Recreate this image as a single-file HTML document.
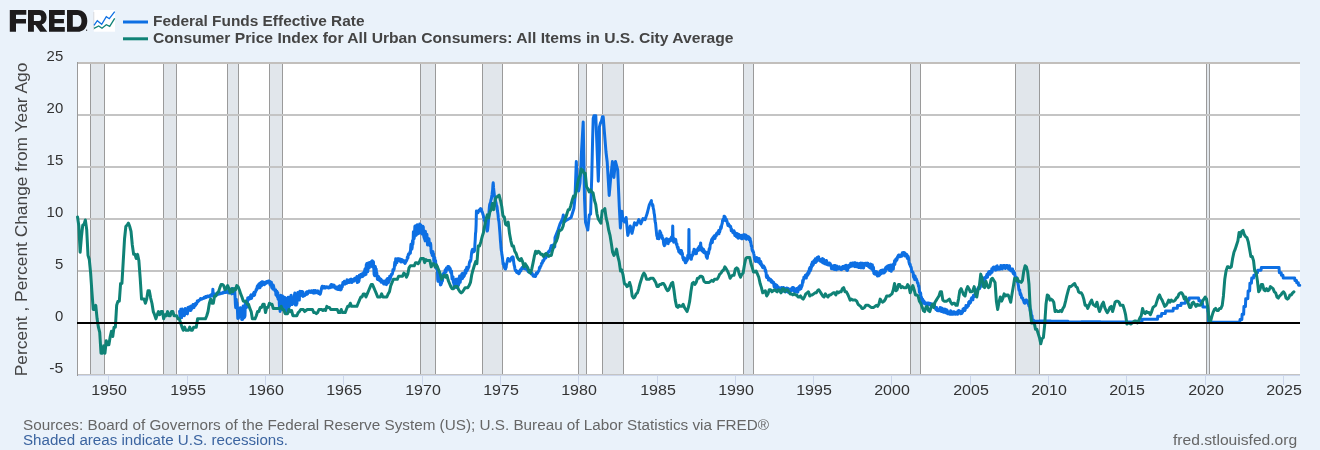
<!DOCTYPE html>
<html><head><meta charset="utf-8"><style>
html,body{margin:0;padding:0;background:#eaf2fa;}
svg{display:block;will-change:transform;}
text{font-family:"Liberation Sans",sans-serif;}
.txt{opacity:0.999}
.ax{font-size:14px;fill:#333;}
.lg{font-size:14px;font-weight:bold;fill:#444;}
.ft{font-size:14px;fill:#666;}
</style></head><body>
<svg width="1320" height="450" viewBox="0 0 1320 450">
<rect x="0" y="0" width="1320" height="450" fill="#eaf2fa"/>
<!-- FRED logo -->
<g fill="#1d1b1c" fill-rule="evenodd">
<path d="M9.8,10 H26.3 V14.7 H16 V18.9 H26 V23.6 H16 V31.8 H9.8 Z"/>
<path d="M28,10 H39.5 C44.2,10 46.6,13.2 46.6,17.5 C46.6,21 44.8,23.4 41.8,24.4 L47.3,31.8 H40.2 L35.3,25 H33.9 V31.8 H28 Z M33.9,14.9 V20.9 H39 C40.6,20.9 41.2,19.6 41.2,17.9 C41.2,16.2 40.6,14.9 39,14.9 Z"/>
<path d="M49,10 H64.8 V14.9 H54.5 V19 H63.9 V23.3 H54.5 V27 H64.8 V31.8 H49 Z"/>
<path d="M67,10 H77.3 C83.5,10 87.3,14.4 87.3,20.9 C87.3,27.4 83.5,31.8 77.3,31.8 H67 Z M72.8,15 V26.7 H77 C79.9,26.7 81.5,24.5 81.5,20.9 C81.5,17.3 79.9,15 77,15 Z"/>
<circle cx="86.6" cy="30.2" r="0.6"/>
</g>
<!-- icon -->
<rect x="93.8" y="10" width="21.2" height="21.7" fill="#fff"/>
<line x1="93.8" y1="12" x2="93.8" y2="30" stroke="#c8c8c8" stroke-width="0.6"/>
<polyline points="94,25.3 97.3,20.7 101.7,24.3 106.3,16.7 109.3,18.7 114.7,11.7" fill="none" stroke="#0d6fe3" stroke-width="1.3"/>
<polyline points="94,28.3 98.7,26 102,28.3 106.3,24.7 109.7,26.3 114.7,18.3" fill="none" stroke="#0f8276" stroke-width="1.3"/>
<!-- legend --><g class="txt">
<line x1="123" y1="22" x2="148" y2="22" stroke="#0d6fe3" stroke-width="3"/>
<line x1="123" y1="38.8" x2="148" y2="38.8" stroke="#0f8276" stroke-width="3"/>
<text x="153" y="25.7" class="lg" textLength="211.5" lengthAdjust="spacingAndGlyphs">Federal Funds Effective Rate</text>
<text x="153" y="43" class="lg" textLength="580.5" lengthAdjust="spacingAndGlyphs">Consumer Price Index for All Urban Consumers: All Items in U.S. City Average</text>
</g><!-- plot -->
<rect x="77" y="62" width="1223" height="313" fill="#ffffff"/>
<rect x="90.63" y="63" width="14.32" height="312" fill="#e1e6eb"/><line x1="90.5" y1="63" x2="90.5" y2="375" stroke="#9a9a9a" stroke-width="1"/><line x1="104.5" y1="63" x2="104.5" y2="375" stroke="#9a9a9a" stroke-width="1"/><rect x="163.65" y="63" width="13.04" height="312" fill="#e1e6eb"/><line x1="163.5" y1="63" x2="163.5" y2="375" stroke="#9a9a9a" stroke-width="1"/><line x1="176.5" y1="63" x2="176.5" y2="375" stroke="#9a9a9a" stroke-width="1"/><rect x="227.63" y="63" width="10.42" height="312" fill="#e1e6eb"/><line x1="227.5" y1="63" x2="227.5" y2="375" stroke="#9a9a9a" stroke-width="1"/><line x1="238.5" y1="63" x2="238.5" y2="375" stroke="#9a9a9a" stroke-width="1"/><rect x="269.40" y="63" width="13.12" height="312" fill="#e1e6eb"/><line x1="269.5" y1="63" x2="269.5" y2="375" stroke="#9a9a9a" stroke-width="1"/><line x1="282.5" y1="63" x2="282.5" y2="375" stroke="#9a9a9a" stroke-width="1"/><rect x="420.80" y="63" width="14.36" height="312" fill="#e1e6eb"/><line x1="420.5" y1="63" x2="420.5" y2="375" stroke="#9a9a9a" stroke-width="1"/><line x1="435.5" y1="63" x2="435.5" y2="375" stroke="#9a9a9a" stroke-width="1"/><rect x="482.17" y="63" width="20.80" height="312" fill="#e1e6eb"/><line x1="482.5" y1="63" x2="482.5" y2="375" stroke="#9a9a9a" stroke-width="1"/><line x1="502.5" y1="63" x2="502.5" y2="375" stroke="#9a9a9a" stroke-width="1"/><rect x="578.73" y="63" width="7.80" height="312" fill="#e1e6eb"/><line x1="578.5" y1="63" x2="578.5" y2="375" stroke="#9a9a9a" stroke-width="1"/><line x1="586.5" y1="63" x2="586.5" y2="375" stroke="#9a9a9a" stroke-width="1"/><rect x="602.19" y="63" width="20.93" height="312" fill="#e1e6eb"/><line x1="602.5" y1="63" x2="602.5" y2="375" stroke="#9a9a9a" stroke-width="1"/><line x1="623.5" y1="63" x2="623.5" y2="375" stroke="#9a9a9a" stroke-width="1"/><rect x="743.13" y="63" width="10.42" height="312" fill="#e1e6eb"/><line x1="743.5" y1="63" x2="743.5" y2="375" stroke="#9a9a9a" stroke-width="1"/><line x1="753.5" y1="63" x2="753.5" y2="375" stroke="#9a9a9a" stroke-width="1"/><rect x="910.19" y="63" width="10.51" height="312" fill="#e1e6eb"/><line x1="910.5" y1="63" x2="910.5" y2="375" stroke="#9a9a9a" stroke-width="1"/><line x1="920.5" y1="63" x2="920.5" y2="375" stroke="#9a9a9a" stroke-width="1"/><rect x="1015.94" y="63" width="23.50" height="312" fill="#e1e6eb"/><line x1="1015.5" y1="63" x2="1015.5" y2="375" stroke="#9a9a9a" stroke-width="1"/><line x1="1039.5" y1="63" x2="1039.5" y2="375" stroke="#9a9a9a" stroke-width="1"/><rect x="1206.54" y="63" width="2.57" height="312" fill="#e1e6eb"/><line x1="1206.5" y1="63" x2="1206.5" y2="375" stroke="#9a9a9a" stroke-width="1"/><line x1="1209.5" y1="63" x2="1209.5" y2="375" stroke="#9a9a9a" stroke-width="1"/>
<line x1="77" y1="115.0" x2="1300" y2="115.0" stroke="#c4c4c4" stroke-width="2"/><line x1="77" y1="167.0" x2="1300" y2="167.0" stroke="#c4c4c4" stroke-width="2"/><line x1="77" y1="219.0" x2="1300" y2="219.0" stroke="#c4c4c4" stroke-width="2"/><line x1="77" y1="271.0" x2="1300" y2="271.0" stroke="#c4c4c4" stroke-width="2"/><line x1="77" y1="375.0" x2="1300" y2="375.0" stroke="#c4c4c4" stroke-width="2"/><line x1="77" y1="63" x2="1300" y2="63" stroke="#c2bfbc" stroke-width="2"/>
<line x1="77" y1="375.5" x2="1300" y2="375.5" stroke="#ccd6eb" stroke-width="1"/>
<line x1="77.5" y1="62" x2="77.5" y2="376" stroke="#9a9a9a" stroke-width="1"/>
<line x1="108.5" y1="375" x2="108.5" y2="385" stroke="#ccd6eb" stroke-width="1"/><line x1="187.5" y1="375" x2="187.5" y2="385" stroke="#ccd6eb" stroke-width="1"/><line x1="265.5" y1="375" x2="265.5" y2="385" stroke="#ccd6eb" stroke-width="1"/><line x1="343.5" y1="375" x2="343.5" y2="385" stroke="#ccd6eb" stroke-width="1"/><line x1="422.5" y1="375" x2="422.5" y2="385" stroke="#ccd6eb" stroke-width="1"/><line x1="500.5" y1="375" x2="500.5" y2="385" stroke="#ccd6eb" stroke-width="1"/><line x1="578.5" y1="375" x2="578.5" y2="385" stroke="#ccd6eb" stroke-width="1"/><line x1="657.5" y1="375" x2="657.5" y2="385" stroke="#ccd6eb" stroke-width="1"/><line x1="735.5" y1="375" x2="735.5" y2="385" stroke="#ccd6eb" stroke-width="1"/><line x1="813.5" y1="375" x2="813.5" y2="385" stroke="#ccd6eb" stroke-width="1"/><line x1="891.5" y1="375" x2="891.5" y2="385" stroke="#ccd6eb" stroke-width="1"/><line x1="970.5" y1="375" x2="970.5" y2="385" stroke="#ccd6eb" stroke-width="1"/><line x1="1048.5" y1="375" x2="1048.5" y2="385" stroke="#ccd6eb" stroke-width="1"/><line x1="1126.5" y1="375" x2="1126.5" y2="385" stroke="#ccd6eb" stroke-width="1"/><line x1="1205.5" y1="375" x2="1205.5" y2="385" stroke="#ccd6eb" stroke-width="1"/><line x1="1283.5" y1="375" x2="1283.5" y2="385" stroke="#ccd6eb" stroke-width="1"/>
<g fill="none" stroke-linejoin="round" stroke-linecap="round">
<path d="M179.56,311.35 L179.86,314.09 L180.16,317.56 L180.46,313.27 L180.76,309.28 L181.06,311.11 L181.36,314.68 L181.66,317.66 L181.96,309.97 L182.26,308.99 L182.56,313.21 L182.86,314.16 L183.16,315.40 L183.46,314.95 L183.76,313.43 L184.06,311.89 L184.36,315.73 L184.66,314.41 L184.96,310.37 L185.26,308.45 L185.56,311.10 L185.86,312.73 L186.17,311.07 L186.47,311.36 L186.77,312.36 L187.07,313.64 L187.37,313.83 L187.67,312.11 L187.97,307.61 L188.27,309.84 L188.57,307.39 L188.87,307.95 L189.17,307.00 L189.47,307.71 L189.77,306.77 L190.07,308.28 L190.37,310.56 L190.67,310.46 L190.97,310.37 L191.27,306.01 L191.57,306.48 L191.87,308.68 L192.17,307.63 L192.47,308.02 L192.77,307.34 L193.07,304.59 L193.37,306.66 L193.67,304.44 L193.97,307.52 L194.27,305.31 L194.57,306.11 L194.87,304.97 L195.17,305.89 L195.47,303.54 L195.77,304.92 L196.07,303.48 L196.37,304.24 L196.67,303.79 L196.97,302.69 L197.27,301.00 L197.57,301.90 L197.87,301.59 L198.17,301.54 L198.47,300.60 L198.77,300.75 L199.07,300.63 L199.37,300.28 L199.67,299.98 L199.97,299.74 L200.27,298.97 L200.57,298.41 L200.87,298.44 L201.17,299.01 L201.47,299.29 L201.77,299.09 L202.07,298.93 L202.37,298.82 L202.67,298.71 L202.97,298.32 L203.27,298.43 L203.57,298.37 L203.87,297.88 L204.17,297.20 L204.47,298.03 L204.77,297.80 L205.08,297.81 L205.38,297.70 L205.68,296.54 L205.98,297.47 L206.28,297.36 L206.58,297.25 L206.88,297.16 L207.18,296.75 L207.48,295.93 L207.78,296.07 L208.08,296.36 L208.38,296.79 L208.68,296.72 L208.98,296.27 L209.28,296.57 L209.58,295.70 L209.88,296.21 L210.18,296.35 L210.48,295.74 L210.78,294.90 L211.08,294.83 L211.38,295.23 L211.68,295.58 L211.98,295.88 L212.28,294.88 L212.58,294.95 L212.88,289.20 L213.18,294.87 L213.48,294.09 L213.78,294.63 L214.08,295.20 L214.38,295.10 L214.68,294.18 L214.98,293.94 L215.28,294.18 L215.58,294.76 L215.88,294.72 L216.18,294.42 L216.48,294.63 L216.78,294.28 L217.08,294.55 L217.38,293.89 L217.68,293.56 L217.98,294.12 L218.28,294.37 L218.58,294.33 L218.88,294.09 L219.18,293.02 L219.48,292.99 L219.78,292.96 L220.08,293.01 L220.38,293.59 L220.68,293.22 L220.98,293.62 L221.28,293.32 L221.58,292.95 L221.88,292.99 L222.18,293.08 L222.48,293.24 L222.78,292.63 L223.08,292.47 L223.38,292.06 L223.69,292.82 L223.99,292.71 L224.29,292.38 L224.59,292.00 L224.89,291.66 L225.19,291.85 L225.49,291.99 L225.79,292.41 L226.09,292.44 L226.39,291.73 L226.69,291.34 L226.99,292.26 L227.29,292.19 L227.59,291.19 L227.89,291.69 L228.19,291.09 L228.49,292.86 L228.79,292.93 L229.09,293.03 L229.39,292.18 L229.69,290.33 L229.99,290.47 L230.29,289.93 L230.59,291.53 L230.89,289.52 L231.19,289.32 L231.49,292.86 L231.79,293.90 L232.09,290.05 L232.39,288.51 L232.69,291.97 L232.99,293.44 L233.29,289.86 L233.59,289.43 L233.89,289.40 L234.19,289.47 L234.49,289.63 L234.79,292.20 L235.09,297.93 L235.39,304.13 L235.69,307.72 L235.99,307.10 L236.29,299.18 L236.59,305.15 L236.89,302.49 L237.19,304.70 L237.49,311.45 L237.79,318.40 L238.09,318.33 L238.39,318.27 L238.69,317.23 L238.99,310.67 L239.29,312.59 L239.59,311.15 L239.89,308.01 L240.19,307.86 L240.49,307.72 L240.79,309.06 L241.09,312.54 L241.39,310.36 L241.69,319.44 L241.99,316.98 L242.29,318.08 L242.60,319.39 L242.90,310.86 L243.20,305.90 L243.50,312.19 L243.80,307.64 L244.10,317.83 L244.40,315.39 L244.70,316.91 L245.00,315.68 L245.30,302.73 L245.60,308.33 L245.90,303.44 L246.20,300.89 L246.50,301.02 L246.80,305.81 L247.10,307.13 L247.40,306.15 L247.70,298.04 L248.00,298.07 L248.30,297.72 L248.60,297.59 L248.90,299.62 L249.20,297.75 L249.50,298.06 L249.80,298.02 L250.10,298.80 L250.40,296.60 L250.70,295.40 L251.00,294.81 L251.30,298.40 L251.60,298.30 L251.90,296.77 L252.20,296.44 L252.50,295.89 L252.80,295.77 L253.10,294.39 L253.40,293.85 L253.70,292.90 L254.00,292.34 L254.30,295.50 L254.60,294.84 L254.90,293.31 L255.20,291.92 L255.50,291.59 L255.80,291.68 L256.10,289.48 L256.40,289.96 L256.70,289.88 L257.00,287.56 L257.30,286.29 L257.60,285.80 L257.90,285.40 L258.20,288.06 L258.50,284.61 L258.80,284.25 L259.10,284.01 L259.40,283.66 L259.70,284.99 L260.00,287.74 L260.30,285.95 L260.60,284.55 L260.90,282.60 L261.21,283.17 L261.51,285.83 L261.81,283.66 L262.11,281.66 L262.41,281.76 L262.71,281.85 L263.01,281.95 L263.31,284.29 L263.61,284.32 L263.91,283.50 L264.21,284.72 L264.51,283.33 L264.81,284.00 L265.11,284.10 L265.41,282.15 L265.71,282.00 L266.01,281.85 L266.31,282.74 L266.61,283.08 L266.91,281.63 L267.21,282.48 L267.51,281.71 L267.81,281.33 L268.11,281.01 L268.41,281.06 L268.71,280.90 L269.01,281.05 L269.31,281.19 L269.61,282.51 L269.91,284.55 L270.21,285.05 L270.51,285.19 L270.81,281.92 L271.11,282.41 L271.41,282.21 L271.71,287.52 L272.01,288.02 L272.31,284.97 L272.61,288.41 L272.91,288.95 L273.21,284.96 L273.51,285.72 L273.81,287.27 L274.11,288.76 L274.41,289.89 L274.71,289.62 L275.01,291.02 L275.31,290.27 L275.61,289.82 L275.91,294.86 L276.21,294.86 L276.51,295.41 L276.81,291.30 L277.11,292.91 L277.41,297.09 L277.71,292.42 L278.01,298.82 L278.31,296.69 L278.61,299.82 L278.91,299.10 L279.21,301.39 L279.51,308.16 L279.81,302.34 L280.12,311.54 L280.42,301.94 L280.72,295.31 L281.02,306.58 L281.32,296.19 L281.62,298.06 L281.92,307.23 L282.22,309.15 L282.52,296.01 L282.82,302.21 L283.12,306.77 L283.42,305.97 L283.72,302.60 L284.02,299.10 L284.32,299.25 L284.62,297.33 L284.92,299.08 L285.22,300.93 L285.52,302.29 L285.82,311.72 L286.12,306.69 L286.42,298.30 L286.72,311.12 L287.02,299.55 L287.32,300.16 L287.62,302.29 L287.92,301.30 L288.22,297.31 L288.52,299.47 L288.82,308.54 L289.12,302.54 L289.42,301.06 L289.72,305.72 L290.02,304.78 L290.32,303.91 L290.62,304.00 L290.92,295.50 L291.22,295.30 L291.52,298.15 L291.82,301.31 L292.12,304.49 L292.42,304.12 L292.72,300.00 L293.02,299.83 L293.32,298.46 L293.62,300.32 L293.92,303.30 L294.22,298.79 L294.52,294.48 L294.82,293.07 L295.12,302.97 L295.42,305.10 L295.72,305.10 L296.02,305.10 L296.32,305.10 L296.62,301.40 L296.92,303.61 L297.22,293.69 L297.52,295.40 L297.82,292.57 L298.12,299.86 L298.42,294.74 L298.73,295.29 L299.03,297.50 L299.33,300.06 L299.63,294.09 L299.93,291.15 L300.23,295.81 L300.53,291.48 L300.83,294.67 L301.13,292.80 L301.43,293.46 L301.73,291.43 L302.03,294.29 L302.33,292.98 L302.63,291.67 L302.93,296.42 L303.23,296.27 L303.53,296.12 L303.83,295.97 L304.13,294.44 L304.43,294.25 L304.73,295.53 L305.03,294.65 L305.33,294.67 L305.63,294.69 L305.93,292.63 L306.23,293.30 L306.53,292.61 L306.83,291.80 L307.13,293.63 L307.43,294.08 L307.73,293.40 L308.03,291.84 L308.33,291.40 L308.63,292.25 L308.93,292.29 L309.23,291.15 L309.53,291.54 L309.83,291.00 L310.13,291.46 L310.43,292.08 L310.73,292.52 L311.03,292.49 L311.33,292.40 L311.63,290.81 L311.93,291.11 L312.23,291.05 L312.53,291.32 L312.83,291.99 L313.13,292.61 L313.43,293.06 L313.73,290.52 L314.03,291.42 L314.33,291.35 L314.63,292.91 L314.93,292.94 L315.23,290.49 L315.53,291.82 L315.83,291.24 L316.13,292.84 L316.43,291.03 L316.73,291.55 L317.03,291.72 L317.33,291.86 L317.64,291.36 L317.94,290.92 L318.24,291.92 L318.54,293.38 L318.84,292.97 L319.14,292.59 L319.44,293.45 L319.74,293.89 L320.04,294.20 L320.34,293.85 L320.64,292.63 L320.94,291.30 L321.24,289.91 L321.54,288.39 L321.84,286.97 L322.14,286.22 L322.44,286.27 L322.74,286.32 L323.04,288.00 L323.34,287.42 L323.64,287.22 L323.94,288.00 L324.24,287.76 L324.54,286.61 L324.84,287.26 L325.14,286.76 L325.44,288.00 L325.74,286.95 L326.04,286.92 L326.34,286.80 L326.64,287.08 L326.94,286.80 L327.24,287.12 L327.54,287.09 L327.84,286.95 L328.14,287.77 L328.44,288.00 L328.74,287.66 L329.04,286.99 L329.34,286.80 L329.64,287.02 L329.94,287.62 L330.24,286.81 L330.54,285.57 L330.84,284.91 L331.14,284.41 L331.44,284.50 L331.74,284.99 L332.04,287.19 L332.34,286.53 L332.64,285.70 L332.94,284.94 L333.24,285.86 L333.54,286.25 L333.84,285.21 L334.14,285.30 L334.44,286.02 L334.74,287.95 L335.04,288.21 L335.34,287.80 L335.64,287.01 L335.94,287.68 L336.25,287.53 L336.55,289.03 L336.85,287.11 L337.15,287.01 L337.45,289.34 L337.75,287.93 L338.05,289.44 L338.35,288.51 L338.65,288.27 L338.95,287.30 L339.25,285.87 L339.55,285.82 L339.85,289.73 L340.15,289.78 L340.45,289.77 L340.75,289.88 L341.05,289.53 L341.35,288.99 L341.65,286.81 L341.95,285.61 L342.25,286.92 L342.55,284.75 L342.85,282.60 L343.15,282.69 L343.45,282.22 L343.75,283.70 L344.05,282.14 L344.35,281.26 L344.65,281.52 L344.95,284.19 L345.25,283.00 L345.55,282.69 L345.85,282.23 L346.15,282.42 L346.45,283.42 L346.75,283.31 L347.05,279.67 L347.35,282.90 L347.65,281.64 L347.95,280.54 L348.25,282.60 L348.55,281.88 L348.85,282.60 L349.15,282.60 L349.45,280.12 L349.75,281.40 L350.05,282.26 L350.35,281.16 L350.65,279.20 L350.95,279.24 L351.25,280.02 L351.55,279.31 L351.85,282.60 L352.15,281.34 L352.45,280.55 L352.75,280.43 L353.05,279.70 L353.35,279.31 L353.65,280.36 L353.95,281.10 L354.25,279.81 L354.55,280.02 L354.85,278.17 L355.16,280.29 L355.46,278.45 L355.76,279.94 L356.06,277.63 L356.36,277.64 L356.66,279.50 L356.96,276.59 L357.26,282.60 L357.56,281.41 L357.86,279.77 L358.16,276.94 L358.46,281.90 L358.76,281.44 L359.06,280.67 L359.36,275.20 L359.66,275.45 L359.96,277.92 L360.26,276.07 L360.56,274.52 L360.86,274.37 L361.16,274.22 L361.46,275.00 L361.76,274.07 L362.06,274.45 L362.36,276.62 L362.66,276.43 L362.96,273.47 L363.26,274.08 L363.56,273.40 L363.86,272.23 L364.16,275.32 L364.46,271.69 L364.76,270.04 L365.06,268.90 L365.36,269.27 L365.66,274.53 L365.96,274.34 L366.26,264.78 L366.56,265.04 L366.86,263.49 L367.16,270.12 L367.46,269.48 L367.76,271.74 L368.06,268.41 L368.36,263.00 L368.66,266.03 L368.96,266.92 L369.26,267.86 L369.56,262.61 L369.86,264.63 L370.16,263.12 L370.46,262.47 L370.76,265.11 L371.06,266.13 L371.36,262.46 L371.66,261.24 L371.96,261.00 L372.26,260.77 L372.56,266.94 L372.86,266.04 L373.16,261.47 L373.46,261.99 L373.77,267.06 L374.07,274.14 L374.37,275.17 L374.67,275.67 L374.97,274.10 L375.27,266.51 L375.57,268.07 L375.87,269.77 L376.17,268.81 L376.47,272.81 L376.77,272.71 L377.07,275.82 L377.37,279.21 L377.67,279.41 L377.97,279.12 L378.27,277.79 L378.57,276.55 L378.87,277.78 L379.17,279.43 L379.47,278.01 L379.77,280.82 L380.07,279.80 L380.37,280.57 L380.67,280.10 L380.97,279.27 L381.27,282.25 L381.57,280.45 L381.87,282.32 L382.17,281.37 L382.47,282.16 L382.77,281.00 L383.07,281.04 L383.37,283.09 L383.67,283.84 L383.97,281.93 L384.27,282.07 L384.57,284.03 L384.87,281.51 L385.17,283.54 L385.47,280.85 L385.77,283.23 L386.07,283.67 L386.37,284.64 L386.67,283.83 L386.97,279.20 L387.27,282.02 L387.57,278.52 L387.87,281.62 L388.17,282.91 L388.47,282.63 L388.77,279.35 L389.07,281.45 L389.37,279.86 L389.67,276.31 L389.97,276.53 L390.27,279.05 L390.57,277.01 L390.87,276.60 L391.17,275.55 L391.47,274.22 L391.77,273.88 L392.07,274.46 L392.37,273.78 L392.68,272.24 L392.98,269.60 L393.28,270.70 L393.58,270.40 L393.88,269.78 L394.18,268.81 L394.48,265.50 L394.78,262.27 L395.08,262.99 L395.38,265.22 L395.68,258.70 L395.98,259.90 L396.28,259.03 L396.58,261.52 L396.88,262.85 L397.18,260.96 L397.48,258.70 L397.78,259.61 L398.08,259.39 L398.38,258.72 L398.68,260.10 L398.98,259.52 L399.28,260.65 L399.58,259.02 L399.88,261.16 L400.18,259.17 L400.48,261.41 L400.78,259.32 L401.08,262.00 L401.38,260.87 L401.68,259.54 L401.98,260.05 L402.28,261.49 L402.58,259.93 L402.88,260.24 L403.18,261.78 L403.48,261.79 L403.78,260.63 L404.08,260.96 L404.38,262.72 L404.68,262.79 L404.98,263.47 L405.28,260.87 L405.58,262.40 L405.88,261.87 L406.18,261.07 L406.48,260.80 L406.78,260.26 L407.08,259.04 L407.38,256.99 L407.68,258.38 L407.98,257.63 L408.28,254.40 L408.58,253.86 L408.88,254.75 L409.18,253.87 L409.48,253.25 L409.78,253.51 L410.08,251.46 L410.38,253.09 L410.68,247.63 L410.98,244.34 L411.29,246.12 L411.59,248.77 L411.89,248.93 L412.19,247.49 L412.49,240.86 L412.79,244.60 L413.09,242.21 L413.39,231.82 L413.69,232.37 L413.99,238.83 L414.29,237.69 L414.59,232.05 L414.89,226.14 L415.19,225.94 L415.49,225.74 L415.79,228.92 L416.09,235.35 L416.39,234.96 L416.69,233.56 L416.99,226.67 L417.29,224.67 L417.59,226.20 L417.89,226.05 L418.19,233.87 L418.49,231.52 L418.79,227.05 L419.09,233.19 L419.39,230.59 L419.69,223.97 L419.99,232.81 L420.29,229.03 L420.59,224.66 L420.89,228.72 L421.19,231.25 L421.49,228.88 L421.79,232.26 L422.09,233.94 L422.39,228.13 L422.69,226.28 L422.99,226.52 L423.29,226.98 L423.59,234.86 L423.89,236.91 L424.19,237.90 L424.49,238.89 L424.79,239.06 L425.09,240.87 L425.39,231.19 L425.69,238.95 L425.99,240.47 L426.29,238.72 L426.59,236.74 L426.89,234.15 L427.19,238.29 L427.49,244.89 L427.79,240.78 L428.09,243.33 L428.39,239.62 L428.69,242.32 L428.99,238.81 L429.29,243.02 L429.59,243.13 L429.89,245.64 L430.20,244.02 L430.50,243.22 L430.80,245.10 L431.10,251.05 L431.40,252.93 L431.70,251.56 L432.00,254.25 L432.30,255.61 L432.60,255.66 L432.90,251.49 L433.20,255.17 L433.50,253.63 L433.80,260.21 L434.10,262.14 L434.40,263.10 L434.70,257.43 L435.00,261.57 L435.30,265.43 L435.60,260.45 L435.90,267.96 L436.20,268.26 L436.50,268.21 L436.80,266.75 L437.10,266.57 L437.40,268.69 L437.70,279.56 L438.00,281.20 L438.30,280.13 L438.60,275.37 L438.90,274.41 L439.20,274.91 L439.50,274.52 L439.80,282.20 L440.10,280.28 L440.40,284.88 L440.70,278.50 L441.00,284.64 L441.30,282.10 L441.60,283.21 L441.90,280.31 L442.20,276.31 L442.50,280.99 L442.80,277.07 L443.10,276.10 L443.40,273.42 L443.70,274.70 L444.00,273.27 L444.30,273.67 L444.60,273.51 L444.90,271.18 L445.20,269.69 L445.50,270.86 L445.80,272.09 L446.10,271.73 L446.40,268.06 L446.70,269.41 L447.00,269.13 L447.30,268.49 L447.60,268.12 L447.90,266.45 L448.20,267.16 L448.50,269.20 L448.81,267.85 L449.11,266.73 L449.41,268.14 L449.71,269.98 L450.01,268.31 L450.31,268.84 L450.61,272.22 L450.91,272.28 L451.21,273.32 L451.51,270.94 L451.81,276.13 L452.11,278.99 L452.41,278.60 L452.71,276.98 L453.01,276.84 L453.31,282.14 L453.61,282.91 L453.91,281.50 L454.21,287.32 L454.51,287.60 L454.81,287.35 L455.11,280.52 L455.41,281.77 L455.71,285.20 L456.01,279.36 L456.31,285.51 L456.61,287.60 L456.91,287.58 L457.21,281.83 L457.51,278.97 L457.81,284.54 L458.11,285.65 L458.41,285.16 L458.71,284.68 L459.01,282.23 L459.31,279.17 L459.61,275.98 L459.91,279.59 L460.21,282.26 L460.51,279.57 L460.81,277.10 L461.11,279.27 L461.41,278.93 L461.71,274.11 L462.01,273.76 L462.31,273.41 L462.61,278.43 L462.91,274.85 L463.21,276.81 L463.51,277.01 L463.81,276.53 L464.11,276.06 L464.41,275.59 L464.71,272.05 L465.01,271.45 L465.31,270.22 L465.61,270.43 L465.91,273.17 L466.21,268.90 L466.51,270.41 L466.81,267.24 L467.11,270.49 L467.41,270.12 L467.72,267.58 L468.02,268.91 L468.32,267.80 L468.62,267.69 L468.92,266.69 L469.22,263.93 L469.52,262.44 L469.82,261.55 L470.12,261.94 L470.42,260.28 L470.72,260.69 L471.02,258.63 L471.32,255.40 L471.62,252.85 L471.92,250.98 L472.22,250.10 L472.52,249.41 L472.82,252.20 L473.12,251.17 L473.42,249.80 L473.72,250.26 L474.02,251.64 L474.32,250.94 L474.62,250.46 L474.92,244.12 L475.22,239.73 L475.52,233.43 L475.82,231.52 L476.12,224.65 L476.42,211.04 L476.72,211.30 L477.02,211.36 L477.32,211.33 L477.62,211.11 L477.92,212.70 L478.22,211.74 L478.52,210.77 L478.82,211.32 L479.12,210.16 L479.42,209.84 L479.72,210.13 L480.02,209.22 L480.32,208.91 L480.62,208.60 L480.92,209.90 L481.22,208.89 L481.52,209.81 L481.82,211.82 L482.12,211.66 L482.42,212.59 L482.72,213.51 L483.02,214.68 L483.32,215.36 L483.62,217.57 L483.92,218.53 L484.22,220.05 L484.52,220.74 L484.82,221.13 L485.12,222.43 L485.42,223.46 L485.72,225.08 L486.02,225.67 L486.33,226.88 L486.63,227.97 L486.93,229.83 L487.23,231.04 L487.53,230.37 L487.83,227.93 L488.13,225.13 L488.43,221.00 L488.73,215.69 L489.03,211.77 L489.33,207.57 L489.63,204.97 L489.93,203.75 L490.23,203.14 L490.53,202.91 L490.83,200.62 L491.13,199.36 L491.43,198.59 L491.73,196.27 L492.03,194.49 L492.33,191.94 L492.63,189.85 L492.93,185.04 L493.23,182.77 L493.53,187.45 L493.83,190.32 L494.13,193.10 L494.43,195.74 L494.73,196.68 L495.03,197.83 L495.33,199.22 L495.63,201.42 L495.93,202.20 L496.23,203.88 L496.53,206.00 L496.83,205.93 L497.13,207.55 L497.43,210.80 L497.73,212.55 L498.03,214.65 L498.33,218.00 L498.63,220.14 L498.93,221.25 L499.23,224.41 L499.53,228.40 L499.83,231.84 L500.13,235.79 L500.43,240.85 L500.73,243.94 L501.03,248.02 L501.33,250.46 L501.63,251.92 L501.93,254.80 L502.23,256.19 L502.53,258.44 L502.83,261.48 L503.13,264.33 L503.43,263.06 L503.73,264.71 L504.03,266.52 L504.33,267.26 L504.63,267.99 L504.93,268.72 L505.24,269.01 L505.54,269.03 L505.84,266.97 L506.14,267.53 L506.44,264.65 L506.74,263.76 L507.04,262.28 L507.34,260.73 L507.64,259.47 L507.94,258.42 L508.24,259.28 L508.54,259.75 L508.84,260.67 L509.14,260.15 L509.44,259.61 L509.74,260.41 L510.04,261.12 L510.34,259.91 L510.64,258.94 L510.94,258.35 L511.24,259.21 L511.54,259.17 L511.84,257.14 L512.14,256.94 L512.44,257.18 L512.74,256.82 L513.04,257.08 L513.34,258.75 L513.64,261.84 L513.94,263.68 L514.24,265.52 L514.54,266.12 L514.84,268.53 L515.14,269.87 L515.44,270.44 L515.74,270.09 L516.04,270.26 L516.34,270.89 L516.64,272.33 L516.94,272.53 L517.24,272.55 L517.54,272.23 L517.84,271.52 L518.14,271.89 L518.44,273.50 L518.74,273.70 L519.04,273.61 L519.34,273.21 L519.64,272.16 L519.94,270.42 L520.24,270.91 L520.54,269.62 L520.84,271.08 L521.14,269.54 L521.44,269.33 L521.74,268.03 L522.04,267.72 L522.34,267.24 L522.64,268.56 L522.94,268.47 L523.24,267.17 L523.54,267.21 L523.85,267.50 L524.15,267.67 L524.45,267.52 L524.75,268.71 L525.05,268.58 L525.35,268.87 L525.65,268.38 L525.95,268.29 L526.25,268.45 L526.55,268.36 L526.85,269.57 L527.15,270.19 L527.45,269.04 L527.75,269.84 L528.05,271.43 L528.35,271.27 L528.65,271.95 L528.95,271.42 L529.25,271.49 L529.55,270.63 L529.85,270.85 L530.15,271.08 L530.45,271.31 L530.75,272.21 L531.05,273.13 L531.35,274.05 L531.65,273.90 L531.95,272.91 L532.25,274.10 L532.55,274.16 L532.85,275.55 L533.15,275.85 L533.45,276.15 L533.75,275.00 L534.05,275.10 L534.35,276.00 L534.65,275.67 L534.95,276.50 L535.25,276.49 L535.55,276.26 L535.85,275.34 L536.15,273.65 L536.45,272.78 L536.75,272.81 L537.05,273.79 L537.35,273.29 L537.65,272.80 L537.95,272.19 L538.25,271.75 L538.55,271.29 L538.85,270.68 L539.15,270.07 L539.45,267.49 L539.75,268.40 L540.05,267.78 L540.35,266.38 L540.65,266.41 L540.95,265.80 L541.25,264.87 L541.55,263.16 L541.85,263.11 L542.15,263.31 L542.45,262.41 L542.76,260.71 L543.06,261.02 L543.36,261.16 L543.66,260.46 L543.96,260.15 L544.26,259.01 L544.56,258.04 L544.86,258.51 L545.16,257.55 L545.46,257.43 L545.76,257.89 L546.06,257.44 L546.36,256.72 L546.66,254.53 L546.96,254.73 L547.26,255.21 L547.56,253.72 L547.86,253.33 L548.16,252.26 L548.46,252.37 L548.76,251.33 L549.06,251.74 L549.36,251.67 L549.66,250.36 L549.96,250.36 L550.26,249.31 L550.56,248.07 L550.86,247.14 L551.16,245.86 L551.46,246.98 L551.76,247.00 L552.06,245.46 L552.36,246.60 L552.66,245.53 L552.96,245.00 L553.26,246.57 L553.56,245.00 L553.86,246.76 L554.16,246.45 L554.46,247.00 L554.76,246.83 L555.00,237.50 L558.00,230.00 L560.00,224.00 L562.50,219.00 L563.30,215.00 L564.00,222.00 L566.00,220.50 L567.80,219.50 L569.50,218.50 L571.10,217.50 L573.90,208.50 L575.00,198.00 L576.30,161.50 L577.40,189.00 L578.60,191.00 L580.00,183.00 L581.00,165.00 L581.50,152.00 L583.20,122.00 L584.50,198.00 L585.50,222.00 L587.80,230.00 L589.30,215.00 L590.60,214.00 L591.80,175.00 L592.60,140.00 L593.20,118.50 L594.00,115.80 L595.80,115.80 L596.50,134.00 L598.30,181.30 L599.40,150.00 L599.40,127.00 L600.30,123.50 L601.50,121.00 L602.40,116.80 L603.20,116.80 L604.40,132.00 L606.00,152.00 L607.20,162.00 L609.20,195.40 L610.50,180.00 L612.40,161.60 L613.90,177.40 L615.50,161.60 L617.70,170.00 L619.30,207.00 L620.40,228.00 L621.90,211.20 L622.90,219.60 L624.50,222.00 L626.10,217.50 L627.80,235.40 L630.30,226.00 L632.00,233.30 L634.50,222.80 L636.60,225.00 L638.80,219.60 L640.90,223.80 L643.00,218.60 L645.10,219.60 L647.20,213.30 L649.30,204.90 L651.40,200.60 L651.41,204.00 L651.71,203.61 L652.01,203.69 L652.31,204.10 L652.61,206.07 L652.91,205.20 L653.21,208.04 L653.51,209.11 L653.81,210.51 L654.11,213.41 L654.41,214.46 L654.71,217.08 L655.01,220.84 L655.32,222.52 L655.62,223.57 L655.92,227.07 L656.22,230.23 L656.52,233.11 L656.82,235.94 L657.12,233.62 L657.42,238.54 L657.72,238.37 L658.02,237.99 L658.32,238.42 L658.62,238.70 L658.92,238.74 L659.22,235.59 L659.52,234.61 L659.82,231.11 L660.12,232.57 L660.42,232.98 L660.72,232.62 L661.02,235.07 L661.32,235.95 L661.62,236.82 L661.92,235.36 L662.22,238.54 L662.52,237.74 L662.82,238.31 L663.12,238.57 L663.42,241.68 L663.72,243.97 L664.02,245.02 L664.32,245.73 L664.62,245.13 L664.92,243.42 L665.22,244.64 L665.52,241.51 L665.82,240.36 L666.12,239.64 L666.42,238.80 L666.72,239.62 L667.02,238.81 L667.32,240.70 L667.62,242.13 L667.92,241.19 L668.22,243.65 L668.52,240.86 L668.82,241.85 L669.12,241.79 L669.42,239.62 L669.72,239.15 L670.02,240.84 L670.32,239.62 L670.62,239.35 L670.92,240.63 L671.22,240.22 L671.52,236.99 L671.82,237.17 L672.12,240.10 L672.42,239.55 L672.72,226.00 L673.02,237.88 L673.32,239.12 L673.62,242.23 L673.93,238.94 L674.23,238.59 L674.53,240.10 L674.83,239.70 L675.13,240.14 L675.43,240.36 L675.73,239.48 L676.03,241.77 L676.33,244.21 L676.63,244.76 L676.93,243.88 L677.23,247.21 L677.53,246.88 L677.83,248.70 L678.13,247.17 L678.43,250.19 L678.73,251.38 L679.03,252.03 L679.33,251.42 L679.63,251.84 L679.93,250.28 L680.23,252.65 L680.53,253.47 L680.83,253.83 L681.13,252.36 L681.43,250.43 L681.73,252.21 L682.03,253.19 L682.33,253.05 L682.63,256.02 L682.93,258.21 L683.23,258.46 L683.53,259.83 L683.83,260.25 L684.13,257.86 L684.43,257.96 L684.73,258.68 L685.03,261.10 L685.33,262.63 L685.63,261.97 L685.93,262.67 L686.23,259.37 L686.53,259.09 L686.83,261.00 L687.13,260.18 L687.43,259.88 L687.73,255.33 L688.03,255.20 L688.33,255.20 L688.63,258.02 L688.93,229.50 L689.23,257.21 L689.53,255.39 L689.83,255.20 L690.13,255.20 L690.43,257.35 L690.73,256.67 L691.03,259.20 L691.33,259.20 L691.63,256.81 L691.93,256.64 L692.23,255.05 L692.53,255.52 L692.84,255.00 L693.14,252.02 L693.44,252.48 L693.74,251.33 L694.04,249.20 L694.34,250.00 L694.64,251.45 L694.94,250.51 L695.24,249.91 L695.54,253.68 L695.84,253.05 L696.14,252.12 L696.44,253.64 L696.74,250.59 L697.04,251.33 L697.34,249.61 L697.64,249.37 L697.94,248.64 L698.24,248.15 L698.54,250.38 L698.84,249.00 L699.14,246.39 L699.44,249.70 L699.74,246.70 L700.04,248.32 L700.34,245.59 L700.64,242.94 L700.94,247.62 L701.24,246.73 L701.54,249.13 L701.84,250.73 L702.14,248.30 L702.44,250.42 L702.74,249.90 L703.04,251.89 L703.34,251.51 L703.64,249.38 L703.94,250.81 L704.24,252.76 L704.54,251.56 L704.84,252.78 L705.14,251.67 L705.44,252.58 L705.74,254.03 L706.04,254.55 L706.34,256.68 L706.64,257.28 L706.94,257.89 L707.24,258.24 L707.54,256.20 L707.84,252.27 L708.14,254.26 L708.44,253.80 L708.74,252.41 L709.04,249.73 L709.34,248.47 L709.64,249.48 L709.94,247.92 L710.24,244.40 L710.54,244.08 L710.84,242.31 L711.14,242.16 L711.45,240.27 L711.75,239.35 L712.05,242.65 L712.35,242.34 L712.65,237.96 L712.95,237.58 L713.25,237.53 L713.55,237.54 L713.85,236.45 L714.15,238.67 L714.45,235.70 L714.75,237.65 L715.05,238.36 L715.35,236.49 L715.65,235.11 L715.95,235.74 L716.25,235.93 L716.55,233.45 L716.85,233.15 L717.15,234.58 L717.45,234.27 L717.75,233.41 L718.05,231.95 L718.35,231.27 L718.65,230.52 L718.95,233.76 L719.25,230.27 L719.55,232.25 L719.85,231.29 L720.15,229.78 L720.45,228.72 L720.75,226.81 L721.05,228.48 L721.35,227.62 L721.65,225.50 L721.95,224.06 L722.25,223.60 L722.55,220.45 L722.85,220.32 L723.15,219.18 L723.45,220.53 L723.75,220.43 L724.05,216.28 L724.35,216.27 L724.65,219.54 L724.95,216.84 L725.25,217.26 L725.55,220.65 L725.85,220.38 L726.15,220.04 L726.45,219.35 L726.75,221.33 L727.05,221.20 L727.35,222.91 L727.65,224.17 L727.95,225.42 L728.25,224.27 L728.55,223.79 L728.85,224.94 L729.15,225.40 L729.45,226.36 L729.75,225.70 L730.05,226.30 L730.36,226.17 L730.66,226.41 L730.96,228.15 L731.26,230.82 L731.56,229.02 L731.86,230.71 L732.16,231.16 L732.46,231.17 L732.76,232.51 L733.06,231.00 L733.36,232.81 L733.66,233.22 L733.96,230.65 L734.26,231.48 L734.56,233.83 L734.86,235.52 L735.16,233.21 L735.46,234.08 L735.76,235.04 L736.06,233.15 L736.36,236.65 L736.66,236.69 L736.96,234.54 L737.26,233.64 L737.56,234.16 L737.86,237.95 L738.16,238.10 L738.46,234.26 L738.76,234.41 L739.06,236.31 L739.36,236.45 L739.66,235.63 L739.96,237.68 L740.26,237.41 L740.56,237.65 L740.86,237.68 L741.16,235.20 L741.46,238.73 L741.76,236.69 L742.06,238.86 L742.36,238.84 L742.66,237.61 L742.96,237.35 L743.26,236.91 L743.56,234.77 L743.86,235.01 L744.16,236.93 L744.46,234.71 L744.76,234.72 L745.06,237.53 L745.36,238.70 L745.66,235.07 L745.96,237.27 L746.26,237.25 L746.56,239.21 L746.86,237.58 L747.16,237.27 L747.46,236.26 L747.76,237.70 L748.06,237.71 L748.36,236.82 L748.66,237.23 L748.97,237.07 L749.27,239.88 L749.57,238.14 L749.87,238.35 L750.17,238.85 L750.47,242.33 L750.77,241.29 L751.07,243.96 L751.37,246.24 L751.67,245.76 L751.97,248.94 L752.27,250.60 L752.57,250.97 L752.87,250.57 L753.17,252.37 L753.47,252.04 L753.77,253.82 L754.07,254.82 L754.37,257.80 L754.67,259.43 L754.97,258.32 L755.27,260.58 L755.57,261.36 L755.87,260.48 L756.17,258.50 L756.47,260.14 L756.77,257.60 L757.07,257.67 L757.37,259.91 L757.67,261.79 L757.97,259.82 L758.27,261.91 L758.57,261.97 L758.87,262.21 L759.17,258.59 L759.47,262.15 L759.77,262.12 L760.07,263.72 L760.37,262.54 L760.67,261.50 L760.97,262.10 L761.27,265.24 L761.57,265.61 L761.87,264.37 L762.17,265.47 L762.47,267.14 L762.77,267.57 L763.07,266.98 L763.37,266.02 L763.67,265.92 L763.97,266.84 L764.27,267.34 L764.57,267.45 L764.87,268.05 L765.17,271.22 L765.47,269.86 L765.77,270.72 L766.07,272.46 L766.37,276.52 L766.67,277.42 L766.97,276.67 L767.27,275.43 L767.57,276.51 L767.88,277.03 L768.18,277.73 L768.48,280.04 L768.78,278.12 L769.08,278.23 L769.38,279.25 L769.68,280.23 L769.98,279.34 L770.28,279.16 L770.58,279.39 L770.88,279.63 L771.18,282.02 L771.48,281.78 L771.78,280.48 L772.08,281.86 L772.38,282.63 L772.68,281.60 L772.98,282.59 L773.28,281.98 L773.58,282.28 L773.88,284.94 L774.18,286.88 L774.48,287.13 L774.78,285.94 L775.08,285.90 L775.38,287.43 L775.68,284.38 L775.98,288.38 L776.28,286.21 L776.58,287.39 L776.88,285.16 L777.18,287.37 L777.48,287.59 L777.78,289.87 L778.08,286.67 L778.38,287.85 L778.68,290.62 L778.98,287.71 L779.28,289.13 L779.58,289.82 L779.88,288.35 L780.18,288.29 L780.48,291.04 L780.78,291.09 L781.08,291.13 L781.38,290.42 L781.68,287.54 L781.98,288.85 L782.28,291.31 L782.58,291.36 L782.88,287.95 L783.18,287.45 L783.48,287.50 L783.78,288.89 L784.08,288.34 L784.38,288.64 L784.68,289.99 L784.98,291.53 L785.28,290.82 L785.58,291.85 L785.88,288.19 L786.18,290.23 L786.49,290.90 L786.79,288.06 L787.09,291.59 L787.39,288.16 L787.69,288.21 L787.99,292.26 L788.29,292.29 L788.59,292.23 L788.89,292.18 L789.19,292.13 L789.49,289.12 L789.79,290.60 L790.09,291.98 L790.39,290.62 L790.69,290.26 L790.99,289.09 L791.29,290.90 L791.59,289.08 L791.89,288.34 L792.19,287.62 L792.49,287.57 L792.79,288.98 L793.09,290.23 L793.39,289.10 L793.69,287.64 L793.99,289.58 L794.29,290.38 L794.59,291.79 L794.89,289.83 L795.19,289.12 L795.49,290.64 L795.79,292.00 L796.09,291.05 L796.39,290.30 L796.69,288.46 L796.99,288.91 L797.29,291.59 L797.59,292.21 L797.89,291.92 L798.19,287.63 L798.49,290.19 L798.79,287.60 L799.09,289.37 L799.39,286.47 L799.69,286.51 L799.99,285.89 L800.29,289.21 L800.59,288.10 L800.89,288.72 L801.19,286.09 L801.49,287.20 L801.79,284.93 L802.09,285.69 L802.39,283.33 L802.69,280.47 L802.99,282.53 L803.29,280.31 L803.59,279.68 L803.89,277.27 L804.19,277.30 L804.49,278.13 L804.79,276.61 L805.09,277.89 L805.40,275.25 L805.70,277.05 L806.00,275.74 L806.30,278.04 L806.60,275.86 L806.90,274.07 L807.20,273.57 L807.50,274.51 L807.80,275.17 L808.10,273.14 L808.40,271.54 L808.70,272.73 L809.00,273.42 L809.30,269.06 L809.60,268.34 L809.90,267.63 L810.20,270.91 L810.50,270.20 L810.80,269.48 L811.10,268.63 L811.40,264.58 L811.70,266.95 L812.00,264.35 L812.30,262.30 L812.60,265.60 L812.90,261.65 L813.20,265.00 L813.50,263.80 L813.80,261.04 L814.10,261.97 L814.40,260.16 L814.70,261.28 L815.00,259.90 L815.30,258.90 L815.60,262.60 L815.90,260.78 L816.20,262.00 L816.50,260.47 L816.80,261.20 L817.10,257.67 L817.40,257.38 L817.70,257.22 L818.00,258.48 L818.30,259.56 L818.60,256.76 L818.90,259.50 L819.20,259.89 L819.50,260.53 L819.80,260.73 L820.10,260.93 L820.40,261.13 L820.70,261.33 L821.00,260.25 L821.30,259.20 L821.60,261.09 L821.90,262.12 L822.20,259.07 L822.50,258.51 L822.80,259.73 L823.10,262.91 L823.40,261.80 L823.70,259.31 L824.01,262.00 L824.31,263.22 L824.61,263.71 L824.91,263.67 L825.21,263.92 L825.51,262.20 L825.81,263.91 L826.11,263.12 L826.41,260.39 L826.71,261.24 L827.01,264.55 L827.31,264.65 L827.61,263.05 L827.91,264.86 L828.21,264.96 L828.51,265.07 L828.81,264.81 L829.11,264.82 L829.41,262.91 L829.71,263.92 L830.01,264.87 L830.31,263.81 L830.61,264.53 L830.91,265.88 L831.21,266.68 L831.51,268.65 L831.81,265.81 L832.11,265.90 L832.41,267.22 L832.71,266.49 L833.01,267.62 L833.31,266.53 L833.61,269.30 L833.91,267.64 L834.21,265.42 L834.51,268.18 L834.81,269.52 L835.11,265.58 L835.41,266.54 L835.71,267.44 L836.01,269.62 L836.31,269.78 L836.61,268.66 L836.91,265.99 L837.21,267.99 L837.51,269.10 L837.81,268.66 L838.11,268.06 L838.41,266.94 L838.71,268.98 L839.01,267.37 L839.31,266.73 L839.61,268.47 L839.91,268.57 L840.21,269.10 L840.51,268.97 L840.81,269.50 L841.11,269.58 L841.41,268.60 L841.71,269.67 L842.01,267.23 L842.31,266.77 L842.61,268.98 L842.92,267.80 L843.22,266.42 L843.52,266.75 L843.82,266.40 L844.12,268.37 L844.42,268.01 L844.72,266.43 L845.02,265.90 L845.32,268.80 L845.62,266.12 L845.92,267.48 L846.22,265.32 L846.52,267.95 L846.82,270.32 L847.12,270.36 L847.42,270.38 L847.72,269.95 L848.02,265.64 L848.32,265.71 L848.62,266.49 L848.92,267.45 L849.22,265.29 L849.52,267.07 L849.82,264.72 L850.12,265.40 L850.42,265.34 L850.72,263.28 L851.02,266.43 L851.32,265.77 L851.62,265.64 L851.92,265.31 L852.22,263.09 L852.52,263.05 L852.82,263.01 L853.12,266.01 L853.42,264.25 L853.72,266.07 L854.02,263.28 L854.32,262.82 L854.62,263.20 L854.92,266.67 L855.22,262.70 L855.52,263.55 L855.82,265.37 L856.12,265.41 L856.42,265.07 L856.72,266.74 L857.02,266.24 L857.32,263.15 L857.62,265.82 L857.92,263.57 L858.22,263.81 L858.52,267.49 L858.82,267.53 L859.12,267.56 L859.42,267.60 L859.72,264.54 L860.02,263.35 L860.32,267.70 L860.62,267.19 L860.92,263.03 L861.22,267.80 L861.53,267.72 L861.83,267.87 L862.13,267.77 L862.43,263.23 L862.73,263.26 L863.03,264.29 L863.33,264.80 L863.63,267.93 L863.93,265.21 L864.23,265.25 L864.53,265.34 L864.83,265.29 L865.13,263.30 L865.43,263.30 L865.73,263.30 L866.03,263.92 L866.33,264.52 L866.63,265.54 L866.93,263.35 L867.23,264.71 L867.53,263.30 L867.83,263.30 L868.13,265.08 L868.43,266.49 L868.73,266.85 L869.03,265.77 L869.33,264.82 L869.63,267.62 L869.93,267.84 L870.23,265.87 L870.53,263.94 L870.83,266.29 L871.13,267.17 L871.43,264.95 L871.73,269.18 L872.03,264.67 L872.33,264.87 L872.63,267.47 L872.93,270.72 L873.23,266.90 L873.53,267.80 L873.83,273.06 L874.13,273.74 L874.43,272.88 L874.73,273.09 L875.03,271.52 L875.33,274.31 L875.63,271.93 L875.93,271.80 L876.23,271.80 L876.53,272.43 L876.83,271.80 L877.13,275.13 L877.43,276.08 L877.73,276.00 L878.03,275.92 L878.33,275.84 L878.63,275.28 L878.93,275.59 L879.23,275.10 L879.53,275.29 L879.83,271.97 L880.13,271.35 L880.44,270.85 L880.74,273.43 L881.04,273.78 L881.34,271.36 L881.64,270.27 L881.94,270.26 L882.24,272.98 L882.54,271.97 L882.84,271.29 L883.14,270.10 L883.44,270.59 L883.74,273.05 L884.04,270.49 L884.34,269.79 L884.64,272.31 L884.94,272.06 L885.24,268.51 L885.54,271.18 L885.84,267.51 L886.14,269.50 L886.44,266.81 L886.74,266.56 L887.04,268.84 L887.34,267.14 L887.64,266.14 L887.94,267.12 L888.24,267.44 L888.54,266.53 L888.84,265.64 L889.14,270.22 L889.44,270.37 L889.74,270.48 L890.04,265.35 L890.34,265.19 L890.64,265.81 L890.94,268.59 L891.24,271.27 L891.54,267.91 L891.84,268.29 L892.14,266.21 L892.44,267.69 L892.74,264.49 L893.04,266.95 L893.34,269.24 L893.64,265.22 L893.94,263.60 L894.24,263.83 L894.54,260.81 L894.84,264.51 L895.14,260.42 L895.44,260.27 L895.74,259.32 L896.04,261.29 L896.34,259.45 L896.64,258.40 L896.94,259.95 L897.24,258.74 L897.54,256.76 L897.84,256.81 L898.14,256.81 L898.44,255.08 L898.74,254.99 L899.05,254.92 L899.35,256.31 L899.65,256.79 L899.95,256.80 L900.25,255.53 L900.55,256.36 L900.85,255.04 L901.15,256.38 L901.45,255.93 L901.75,254.36 L902.05,256.07 L902.35,252.74 L902.65,252.65 L902.95,252.55 L903.25,253.20 L903.55,252.44 L903.85,252.52 L904.15,252.59 L904.45,253.15 L904.75,252.81 L905.05,256.03 L905.35,256.10 L905.65,253.62 L905.95,256.26 L906.25,255.49 L906.55,256.51 L906.85,254.41 L907.15,257.65 L907.45,258.54 L907.75,257.40 L908.05,256.21 L908.35,257.04 L908.65,259.06 L908.95,262.01 L909.25,263.23 L909.55,264.46 L909.85,264.75 L910.15,264.32 L910.45,266.53 L910.75,266.64 L911.05,267.04 L911.35,268.32 L911.65,271.55 L911.95,271.11 L912.25,272.13 L912.55,271.85 L912.85,272.40 L913.15,272.78 L913.45,276.80 L913.75,276.59 L914.05,278.29 L914.35,277.64 L914.65,279.62 L914.95,275.92 L915.25,277.06 L915.55,278.60 L915.85,278.38 L916.15,279.79 L916.45,279.10 L916.75,280.80 L917.05,280.84 L917.35,282.55 L917.65,283.31 L917.96,283.01 L918.26,284.51 L918.56,286.61 L918.86,285.94 L919.16,288.35 L919.46,292.36 L919.76,291.52 L920.06,293.49 L920.36,295.03 L920.66,293.09 L920.96,297.48 L921.26,298.46 L921.56,297.25 L921.86,300.41 L922.16,299.39 L922.46,302.36 L922.76,299.30 L923.06,303.24 L923.36,302.95 L923.66,300.82 L923.96,301.23 L924.26,301.63 L924.56,302.04 L924.86,303.67 L925.16,303.86 L925.46,302.90 L925.76,302.90 L926.06,304.21 L926.36,304.29 L926.66,305.40 L926.96,302.90 L927.26,303.94 L927.56,304.12 L927.86,305.00 L928.16,302.90 L928.46,302.94 L928.76,303.37 L929.06,304.05 L929.36,303.17 L929.66,304.04 L929.96,304.27 L930.26,305.07 L930.56,303.48 L930.86,304.21 L931.16,303.70 L931.46,303.88 L931.76,305.07 L932.06,305.76 L932.36,305.63 L932.66,304.94 L932.96,306.25 L933.26,304.13 L933.56,304.31 L933.86,304.12 L934.16,303.71 L934.46,305.52 L934.76,308.06 L935.06,308.24 L935.36,308.44 L935.66,307.85 L935.96,309.57 L936.26,309.20 L936.57,307.41 L936.87,308.52 L937.17,310.58 L937.47,309.54 L937.77,310.69 L938.07,309.64 L938.37,310.80 L938.67,310.84 L938.97,310.85 L939.27,309.29 L939.57,310.69 L939.87,309.41 L940.17,307.52 L940.47,309.05 L940.77,307.66 L941.07,311.33 L941.37,311.47 L941.67,310.50 L941.97,311.31 L942.27,308.18 L942.57,311.34 L942.87,309.54 L943.17,311.22 L943.47,312.20 L943.77,309.41 L944.07,309.53 L944.37,310.93 L944.67,311.62 L944.97,309.12 L945.27,309.23 L945.57,312.85 L945.87,310.90 L946.17,312.27 L946.47,309.81 L946.77,309.96 L947.07,310.11 L947.37,311.17 L947.67,313.86 L947.97,313.10 L948.27,312.30 L948.57,312.86 L948.87,313.43 L949.17,312.35 L949.47,313.40 L949.77,314.30 L950.07,314.30 L950.37,313.31 L950.67,310.70 L950.97,314.30 L951.27,314.30 L951.57,314.30 L951.87,314.30 L952.17,312.86 L952.47,314.30 L952.77,314.30 L953.07,314.30 L953.37,311.69 L953.67,313.98 L953.97,312.44 L954.27,311.88 L954.57,312.90 L954.87,312.06 L955.17,314.30 L955.48,314.30 L955.78,313.77 L956.08,312.64 L956.38,312.99 L956.68,312.29 L956.98,313.43 L957.28,314.30 L957.58,314.30 L957.88,311.08 L958.18,311.39 L958.48,312.18 L958.78,310.54 L959.08,312.20 L959.38,311.99 L959.68,312.22 L959.98,312.83 L960.28,311.30 L960.58,313.86 L960.88,313.82 L961.18,311.97 L961.48,312.73 L961.78,313.44 L962.08,311.10 L962.38,310.86 L962.68,312.23 L962.98,309.15 L963.28,308.77 L963.58,309.49 L963.88,310.64 L964.18,308.17 L964.48,310.09 L964.78,310.48 L965.08,310.10 L965.38,308.51 L965.68,307.87 L965.98,305.55 L966.28,307.14 L966.58,306.80 L966.88,307.39 L967.18,307.35 L967.48,306.26 L967.78,305.47 L968.08,305.18 L968.38,305.77 L968.68,302.26 L968.98,302.73 L969.28,301.58 L969.58,302.19 L969.88,303.35 L970.18,302.20 L970.48,302.67 L970.78,301.64 L971.08,299.49 L971.38,298.57 L971.68,297.78 L971.98,298.59 L972.28,297.92 L972.58,299.52 L972.88,299.77 L973.18,296.80 L973.48,295.36 L973.78,297.08 L974.09,295.00 L974.39,295.85 L974.69,296.57 L974.99,294.78 L975.29,296.30 L975.59,293.68 L975.89,294.04 L976.19,292.39 L976.49,290.48 L976.79,289.93 L977.09,290.22 L977.39,291.29 L977.69,290.09 L977.99,288.30 L978.29,287.68 L978.59,287.46 L978.89,288.82 L979.19,287.19 L979.49,288.57 L979.79,288.12 L980.09,285.41 L980.39,287.03 L980.69,283.18 L980.99,283.46 L981.29,282.29 L981.59,282.79 L981.89,284.87 L982.19,283.35 L982.49,282.25 L982.79,283.65 L983.09,280.89 L983.39,279.39 L983.69,281.63 L983.99,281.52 L984.29,277.85 L984.59,278.87 L984.89,280.07 L985.19,278.63 L985.49,277.46 L985.79,277.71 L986.09,277.67 L986.39,275.84 L986.69,277.56 L986.99,274.29 L987.29,274.79 L987.59,277.09 L987.89,274.28 L988.19,274.24 L988.49,272.31 L988.79,271.91 L989.09,271.60 L989.39,272.20 L989.69,271.66 L989.99,274.28 L990.29,271.59 L990.59,271.63 L990.89,271.87 L991.19,272.47 L991.49,272.75 L991.79,268.84 L992.09,272.13 L992.39,270.59 L992.69,268.72 L993.00,267.61 L993.30,267.31 L993.60,267.13 L993.90,267.90 L994.20,267.41 L994.50,268.73 L994.80,267.24 L995.10,268.11 L995.40,270.12 L995.70,270.02 L996.00,269.56 L996.30,266.87 L996.60,269.71 L996.90,266.01 L997.20,265.91 L997.50,268.72 L997.80,266.90 L998.10,269.20 L998.40,269.12 L998.70,269.20 L999.00,269.20 L999.30,269.20 L999.60,267.26 L999.90,268.37 L1000.20,269.20 L1000.50,268.60 L1000.80,265.60 L1001.10,265.60 L1001.40,266.03 L1001.70,266.83 L1002.00,266.62 L1002.30,269.07 L1002.60,265.85 L1002.90,267.61 L1003.20,265.60 L1003.50,265.60 L1003.80,265.60 L1004.10,265.60 L1004.40,265.60 L1004.70,265.60 L1005.00,267.74 L1005.30,268.51 L1005.60,267.93 L1005.90,267.93 L1006.20,266.42 L1006.50,265.60 L1006.80,265.60 L1007.10,265.62 L1007.40,265.60 L1007.70,265.97 L1008.00,268.13 L1008.30,268.59 L1008.60,269.20 L1008.90,266.76 L1009.20,265.76 L1009.50,265.99 L1009.80,269.82 L1010.10,270.05 L1010.40,268.44 L1010.70,270.52 L1011.00,269.03 L1011.30,270.98 L1011.61,269.74 L1011.91,269.08 L1012.21,270.97 L1012.51,268.92 L1012.81,270.20 L1013.11,273.35 L1013.41,273.86 L1013.71,271.36 L1014.01,272.27 L1014.31,273.30 L1014.61,272.77 L1014.91,274.90 L1015.21,277.02 L1015.51,276.75 L1015.81,278.38 L1016.11,278.40 L1016.41,278.59 L1016.71,277.60 L1017.01,280.59 L1017.31,281.84 L1017.61,281.68 L1017.91,281.52 L1018.21,284.77 L1018.51,286.15 L1018.81,289.08 L1019.11,290.27 L1019.41,290.50 L1019.71,289.83 L1020.01,293.35 L1020.31,294.60 L1020.61,293.45 L1020.91,294.37 L1021.21,295.29 L1021.51,297.58 L1021.81,298.03 L1022.11,297.78 L1022.41,298.00 L1022.71,298.23 L1023.01,299.25 L1023.31,300.18 L1023.61,300.01 L1023.91,301.93 L1024.21,302.93 L1024.51,301.62 L1024.81,303.17 L1025.11,302.23 L1025.41,300.37 L1025.71,301.51 L1026.01,299.97 L1026.31,300.49 L1026.61,300.17 L1026.91,300.70 L1027.21,302.34 L1027.51,301.06 L1027.81,302.36 L1028.11,303.64 L1028.41,303.49 L1028.71,305.38 L1029.01,306.00 L1029.31,305.50 L1029.61,304.74 L1029.91,308.24 L1030.21,310.81 L1030.52,309.20 L1030.82,310.87 L1031.12,312.55 L1031.42,316.49 L1031.72,316.08 L1032.02,315.64 L1032.32,319.69 L1032.62,319.89 L1032.92,319.94 L1033.22,320.33 L1033.52,320.11 L1033.82,321.34 L1034.12,321.34 L1034.42,321.34 L1034.72,321.34 L1035.02,321.34 L1035.32,321.34 L1035.62,321.34 L1035.92,321.34 L1036.22,321.34 L1036.52,321.34 L1036.82,321.34 L1037.12,321.34 L1037.42,321.34 L1037.72,321.34 L1038.02,321.34 L1038.32,321.34 L1038.62,321.34 L1038.92,321.34 L1039.22,321.34 L1039.52,320.92 L1039.82,320.92 L1040.12,320.92 L1040.42,320.92 L1040.72,320.92 L1041.02,320.92 L1041.32,320.92 L1041.62,320.92 L1041.92,320.92 L1042.22,320.92 L1042.52,320.92 L1042.82,320.92 L1043.12,320.92 L1043.42,320.92 L1043.72,320.92 L1044.02,320.92 L1044.32,320.92 L1044.62,320.92 L1044.92,320.92 L1045.22,320.92 L1045.52,320.92 L1045.82,320.92 L1046.12,320.92 L1046.42,320.92 L1046.72,320.92 L1047.02,320.92 L1047.32,320.92 L1047.62,320.92 L1047.92,320.92 L1048.22,320.92 L1048.52,320.92 L1048.82,320.92 L1049.13,320.92 L1049.43,320.92 L1049.73,320.92 L1050.03,320.92 L1050.33,320.92 L1050.63,320.92 L1050.93,320.92 L1051.23,321.23 L1051.53,321.23 L1051.83,321.23 L1052.13,321.23 L1052.43,321.23 L1052.73,321.23 L1053.03,321.23 L1053.33,321.23 L1053.63,321.23 L1053.93,321.23 L1054.23,321.23 L1054.53,321.23 L1054.83,321.23 L1055.13,321.23 L1055.43,321.23 L1055.73,321.23 L1056.03,321.23 L1056.33,321.23 L1056.63,321.23 L1056.93,321.23 L1057.23,321.23 L1057.53,321.23 L1057.83,321.23 L1058.13,321.23 L1058.43,321.23 L1058.73,321.23 L1059.03,321.23 L1059.33,321.23 L1059.63,321.23 L1059.93,321.23 L1060.23,321.23 L1060.53,321.23 L1060.83,321.23 L1061.13,321.23 L1061.43,321.23 L1061.73,321.23 L1062.03,321.23 L1062.33,321.23 L1062.63,321.23 L1062.93,321.23 L1063.23,321.23 L1063.53,321.23 L1063.83,321.23 L1064.13,321.23 L1064.43,321.23 L1064.73,321.23 L1065.03,321.23 L1065.33,321.23 L1065.63,321.23 L1065.93,321.23 L1066.23,321.23 L1066.53,321.23 L1066.83,321.23 L1067.13,321.23 L1067.43,321.23 L1067.73,321.23 L1068.04,321.23 L1068.34,322.06 L1068.64,322.06 L1068.94,322.06 L1069.24,322.06 L1069.54,322.06 L1069.84,322.06 L1070.14,322.06 L1070.44,322.06 L1070.74,322.06 L1071.04,322.06 L1071.34,322.06 L1071.64,322.06 L1071.94,322.06 L1072.24,322.06 L1072.54,322.06 L1072.84,322.06 L1073.14,322.06 L1073.44,322.06 L1073.74,322.06 L1074.04,322.06 L1074.34,322.06 L1074.64,322.06 L1074.94,322.06 L1075.24,322.06 L1075.54,322.06 L1075.84,322.06 L1076.14,322.06 L1076.44,322.06 L1076.74,322.06 L1077.04,322.06 L1077.34,322.06 L1077.64,322.06 L1077.94,322.06 L1078.24,322.06 L1078.54,322.06 L1078.84,322.06 L1079.14,322.06 L1079.44,322.06 L1079.74,322.06 L1080.04,322.06 L1080.34,322.06 L1080.64,322.06 L1080.94,322.06 L1081.24,321.65 L1081.54,321.65 L1081.84,321.65 L1082.14,321.65 L1082.44,321.65 L1082.74,321.65 L1083.04,321.65 L1083.34,321.65 L1083.64,321.65 L1083.94,321.65 L1084.24,321.65 L1084.54,321.65 L1084.84,321.65 L1085.14,321.65 L1085.44,321.65 L1085.74,321.65 L1086.04,321.65 L1086.34,321.65 L1086.65,321.65 L1086.95,321.65 L1087.25,321.65 L1087.55,321.65 L1087.85,321.65 L1088.15,321.65 L1088.45,321.65 L1088.75,321.65 L1089.05,321.65 L1089.35,321.65 L1089.65,321.65 L1089.95,321.65 L1090.25,321.65 L1090.55,321.65 L1090.85,321.65 L1091.15,321.65 L1091.45,321.65 L1091.75,321.65 L1092.05,321.65 L1092.35,321.65 L1092.65,321.65 L1092.95,321.65 L1093.25,321.65 L1093.55,321.65 L1093.85,321.65 L1094.15,321.65 L1094.45,321.65 L1094.75,321.65 L1095.05,321.65 L1095.35,321.65 L1095.65,321.65 L1095.95,321.65 L1096.25,321.65 L1096.55,321.65 L1096.85,321.65 L1097.15,321.65 L1097.45,321.65 L1097.75,321.65 L1098.05,321.65 L1098.35,321.65 L1098.65,321.65 L1098.95,321.65 L1099.25,321.65 L1099.55,321.65 L1099.85,321.65 L1100.15,321.65 L1100.45,321.65 L1100.75,322.06 L1101.05,322.06 L1101.35,322.06 L1101.65,322.06 L1101.95,322.06 L1102.25,322.06 L1102.55,322.06 L1102.85,322.06 L1103.15,322.06 L1103.45,322.06 L1103.75,322.06 L1104.05,322.06 L1104.35,322.06 L1104.65,322.06 L1104.95,322.06 L1105.25,322.06 L1105.56,322.06 L1105.86,322.06 L1106.16,322.06 L1106.46,322.06 L1106.76,322.06 L1107.06,322.06 L1107.36,322.06 L1107.66,322.06 L1107.96,322.06 L1108.26,322.06 L1108.56,322.06 L1108.86,322.06 L1109.16,322.06 L1109.46,322.06 L1109.76,322.06 L1110.06,322.06 L1110.36,322.06 L1110.66,322.06 L1110.96,322.06 L1111.26,322.06 L1111.56,322.06 L1111.86,322.06 L1112.16,322.06 L1112.46,322.06 L1112.76,322.06 L1113.06,322.06 L1113.36,322.06 L1113.66,322.06 L1113.96,322.06 L1114.26,322.06 L1114.56,322.06 L1114.86,322.06 L1115.16,322.06 L1115.46,322.06 L1115.76,322.06 L1116.06,322.06 L1116.36,322.06 L1116.66,322.06 L1116.96,322.06 L1117.26,322.06 L1117.56,322.06 L1117.86,322.06 L1118.16,322.06 L1118.46,322.06 L1118.76,322.06 L1119.06,322.06 L1119.36,322.06 L1119.66,322.06 L1119.96,322.06 L1120.26,322.06 L1120.56,322.06 L1120.86,322.06 L1121.16,322.06 L1121.46,322.06 L1121.76,322.06 L1122.06,322.06 L1122.36,322.06 L1122.66,322.06 L1122.96,322.06 L1123.26,322.06 L1123.56,322.06 L1123.86,322.06 L1124.17,322.06 L1124.47,322.06 L1124.77,322.06 L1125.07,322.06 L1125.37,322.06 L1125.67,322.06 L1125.97,322.06 L1126.27,322.06 L1126.57,322.06 L1126.87,322.06 L1127.17,322.06 L1127.47,322.06 L1127.77,322.06 L1128.07,322.06 L1128.37,322.06 L1128.67,322.06 L1128.97,322.06 L1129.27,322.06 L1129.57,322.06 L1129.87,322.06 L1130.17,322.06 L1130.47,322.06 L1130.77,322.06 L1131.07,322.06 L1131.37,322.06 L1131.67,322.06 L1131.97,322.06 L1132.27,322.06 L1132.57,322.06 L1132.87,322.06 L1133.17,322.06 L1133.47,322.06 L1133.77,322.06 L1134.07,322.06 L1134.37,322.06 L1134.67,322.06 L1134.97,322.06 L1135.27,322.06 L1135.57,322.06 L1135.87,322.06 L1136.17,322.06 L1136.47,322.06 L1136.77,322.06 L1137.07,322.06 L1137.37,322.06 L1137.67,322.06 L1137.97,322.06 L1138.27,322.06 L1138.57,322.06 L1138.87,322.06 L1139.17,322.06 L1139.47,322.06 L1139.77,322.06 L1140.07,322.06 L1140.37,322.06 L1140.67,322.06 L1140.97,322.06 L1141.27,322.06 L1141.57,322.06 L1141.87,322.06 L1142.17,319.26 L1142.47,319.26 L1142.77,319.26 L1143.08,319.26 L1143.38,319.26 L1143.68,319.26 L1143.98,319.26 L1144.28,319.26 L1144.58,319.26 L1144.88,319.26 L1145.18,319.26 L1145.48,319.26 L1145.78,319.26 L1146.08,319.26 L1146.38,319.26 L1146.68,319.26 L1146.98,319.26 L1147.28,319.26 L1147.58,319.26 L1147.88,319.26 L1148.18,319.26 L1148.48,319.26 L1148.78,319.26 L1149.08,319.26 L1149.38,319.26 L1149.68,319.26 L1149.98,319.26 L1150.28,319.26 L1150.58,319.26 L1150.88,319.26 L1151.18,319.26 L1151.48,319.26 L1151.78,319.26 L1152.08,319.26 L1152.38,319.26 L1152.68,319.26 L1152.98,319.26 L1153.28,319.26 L1153.58,319.26 L1153.88,319.26 L1154.18,319.26 L1154.48,319.26 L1154.78,319.26 L1155.08,319.26 L1155.38,319.26 L1155.68,319.26 L1155.98,319.26 L1156.28,319.26 L1156.58,319.26 L1156.88,319.26 L1157.18,319.26 L1157.48,319.26 L1157.78,316.14 L1158.08,316.14 L1158.38,316.14 L1158.68,316.14 L1158.98,316.14 L1159.28,316.14 L1159.58,316.14 L1159.88,316.14 L1160.18,316.14 L1160.48,316.14 L1160.78,316.14 L1161.08,316.14 L1161.38,316.14 L1161.69,313.54 L1161.99,313.54 L1162.29,313.54 L1162.59,313.54 L1162.89,313.54 L1163.19,313.54 L1163.49,313.54 L1163.79,313.54 L1164.09,313.54 L1164.39,313.54 L1164.69,313.54 L1164.99,313.54 L1165.29,313.54 L1165.59,310.94 L1165.89,310.94 L1166.19,310.94 L1166.49,310.94 L1166.79,310.94 L1167.09,310.94 L1167.39,310.94 L1167.69,310.94 L1167.99,310.94 L1168.29,310.94 L1168.59,310.94 L1168.89,310.94 L1169.19,310.94 L1169.49,310.94 L1169.79,310.94 L1170.09,310.94 L1170.39,310.94 L1170.69,310.94 L1170.99,310.94 L1171.29,310.94 L1171.59,310.94 L1171.89,310.94 L1172.19,310.94 L1172.49,310.94 L1172.79,310.94 L1173.09,310.94 L1173.39,308.23 L1173.69,308.23 L1173.99,308.23 L1174.29,308.23 L1174.59,308.23 L1174.89,308.23 L1175.19,308.23 L1175.49,308.23 L1175.79,308.23 L1176.09,308.23 L1176.39,308.23 L1176.69,308.23 L1176.99,308.23 L1177.29,308.23 L1177.59,305.53 L1177.89,305.53 L1178.19,305.53 L1178.49,305.53 L1178.79,305.53 L1179.09,305.53 L1179.39,305.53 L1179.69,305.53 L1179.99,305.53 L1180.29,305.53 L1180.60,305.53 L1180.90,305.53 L1181.20,303.14 L1181.50,303.14 L1181.80,303.14 L1182.10,303.14 L1182.40,303.14 L1182.70,303.14 L1183.00,303.14 L1183.30,303.14 L1183.60,303.14 L1183.90,303.14 L1184.20,303.14 L1184.50,303.14 L1184.80,303.14 L1185.10,303.14 L1185.40,303.14 L1185.70,300.33 L1186.00,300.33 L1186.30,300.33 L1186.60,300.33 L1186.90,300.33 L1187.20,300.33 L1187.50,300.33 L1187.80,300.33 L1188.10,300.33 L1188.40,300.33 L1188.70,300.33 L1189.00,300.33 L1189.30,298.04 L1189.60,298.04 L1189.90,298.04 L1190.20,298.04 L1190.50,298.04 L1190.80,298.04 L1191.10,298.04 L1191.40,298.04 L1191.70,298.04 L1192.00,298.04 L1192.30,298.04 L1192.60,298.04 L1192.90,298.04 L1193.20,298.04 L1193.50,298.04 L1193.80,298.04 L1194.10,298.04 L1194.40,298.04 L1194.70,298.04 L1195.00,298.04 L1195.30,298.04 L1195.60,298.04 L1195.90,298.04 L1196.20,298.04 L1196.50,298.04 L1196.80,298.04 L1197.10,298.04 L1197.40,298.04 L1197.70,298.04 L1198.00,298.04 L1198.30,298.04 L1198.60,298.04 L1198.90,300.85 L1199.21,300.85 L1199.51,300.85 L1199.81,300.85 L1200.11,300.85 L1200.41,300.85 L1200.71,300.85 L1201.01,303.24 L1201.31,303.24 L1201.61,303.24 L1201.91,303.24 L1202.21,303.24 L1202.51,303.24 L1202.81,306.88 L1203.11,306.88 L1203.41,306.88 L1203.71,306.88 L1204.01,306.88 L1204.31,306.88 L1204.61,306.88 L1204.91,306.88 L1205.21,306.88 L1205.51,306.88 L1205.81,306.88 L1206.11,306.88 L1206.41,306.88 L1206.71,306.88 L1207.01,306.88 L1207.31,306.88 L1207.61,306.88 L1207.91,311.56 L1208.21,311.56 L1208.51,321.96 L1208.81,321.96 L1209.11,321.96 L1209.41,321.96 L1209.71,321.96 L1210.01,321.96 L1210.31,321.96 L1210.61,321.96 L1210.91,321.96 L1211.21,321.96 L1211.51,321.96 L1211.81,322.17 L1212.11,322.17 L1212.41,322.17 L1212.71,322.17 L1213.01,322.17 L1213.31,322.17 L1213.61,322.17 L1213.91,322.17 L1214.21,322.17 L1214.51,322.17 L1214.81,322.17 L1215.11,322.17 L1215.41,322.17 L1215.71,322.17 L1216.01,322.17 L1216.31,322.17 L1216.61,322.17 L1216.91,322.17 L1217.21,322.17 L1217.51,322.17 L1217.81,322.17 L1218.12,322.17 L1218.42,322.17 L1218.72,322.17 L1219.02,322.17 L1219.32,322.17 L1219.62,322.17 L1219.92,322.17 L1220.22,322.17 L1220.52,322.17 L1220.82,322.17 L1221.12,322.17 L1221.42,322.17 L1221.72,322.17 L1222.02,322.17 L1222.32,322.17 L1222.62,322.17 L1222.92,322.17 L1223.22,322.17 L1223.52,322.17 L1223.82,322.17 L1224.12,322.17 L1224.42,322.17 L1224.72,322.17 L1225.02,322.17 L1225.32,322.17 L1225.62,322.17 L1225.92,322.17 L1226.22,322.17 L1226.52,322.17 L1226.82,322.17 L1227.12,322.17 L1227.42,322.17 L1227.72,322.17 L1228.02,322.17 L1228.32,322.17 L1228.62,322.17 L1228.92,322.17 L1229.22,322.17 L1229.52,322.17 L1229.82,322.17 L1230.12,322.17 L1230.42,322.17 L1230.72,322.17 L1231.02,322.17 L1231.32,322.17 L1231.62,322.17 L1231.92,322.17 L1232.22,322.17 L1232.52,322.17 L1232.82,322.17 L1233.12,322.17 L1233.42,322.17 L1233.72,322.17 L1234.02,322.17 L1234.32,322.17 L1234.62,322.17 L1234.92,322.17 L1235.22,322.17 L1235.52,322.17 L1235.82,322.17 L1236.12,322.17 L1236.42,322.17 L1236.73,322.17 L1237.03,322.17 L1237.33,322.17 L1237.63,322.17 L1237.93,322.17 L1238.23,322.17 L1238.53,322.17 L1238.83,322.17 L1239.13,322.17 L1239.43,322.17 L1239.73,322.17 L1240.03,319.57 L1240.33,319.57 L1240.63,319.57 L1240.93,319.57 L1241.23,319.57 L1241.53,319.57 L1241.83,319.57 L1242.13,314.37 L1242.43,314.37 L1242.73,314.37 L1243.03,314.37 L1243.33,314.37 L1243.63,314.37 L1243.93,306.57 L1244.23,306.57 L1244.53,306.57 L1244.83,306.57 L1245.13,306.57 L1245.43,306.57 L1245.73,298.77 L1246.03,298.77 L1246.33,298.77 L1246.63,298.77 L1246.93,298.77 L1247.23,298.77 L1247.53,298.77 L1247.83,298.77 L1248.13,290.97 L1248.43,290.97 L1248.73,290.97 L1249.03,290.97 L1249.33,290.97 L1249.63,290.97 L1249.93,283.17 L1250.23,283.17 L1250.53,283.17 L1250.83,283.17 L1251.13,283.17 L1251.43,283.17 L1251.73,277.97 L1252.03,277.97 L1252.33,277.97 L1252.63,277.97 L1252.93,277.97 L1253.23,277.97 L1253.53,277.97 L1253.83,275.37 L1254.13,275.37 L1254.43,275.37 L1254.73,275.37 L1255.03,275.37 L1255.33,275.37 L1255.64,275.37 L1255.94,272.77 L1256.24,272.77 L1256.54,272.77 L1256.84,272.77 L1257.14,272.77 L1257.44,272.77 L1257.74,270.17 L1258.04,270.17 L1258.34,270.17 L1258.64,270.17 L1258.94,270.17 L1259.24,270.17 L1259.54,270.17 L1259.84,270.17 L1260.14,270.17 L1260.44,270.17 L1260.74,270.17 L1261.04,270.17 L1261.34,267.57 L1261.64,267.57 L1261.94,267.57 L1262.24,267.57 L1262.54,267.57 L1262.84,267.57 L1263.14,267.57 L1263.44,267.57 L1263.74,267.57 L1264.04,267.57 L1264.34,267.57 L1264.64,267.57 L1264.94,267.57 L1265.24,267.57 L1265.54,267.57 L1265.84,267.57 L1266.14,267.57 L1266.44,267.57 L1266.74,267.57 L1267.04,267.57 L1267.34,267.57 L1267.64,267.57 L1267.94,267.57 L1268.24,267.57 L1268.54,267.57 L1268.84,267.57 L1269.14,267.57 L1269.44,267.57 L1269.74,267.57 L1270.04,267.57 L1270.34,267.57 L1270.64,267.57 L1270.94,267.57 L1271.24,267.57 L1271.54,267.57 L1271.84,267.57 L1272.14,267.57 L1272.44,267.57 L1272.74,267.57 L1273.04,267.57 L1273.34,267.57 L1273.64,267.57 L1273.94,267.57 L1274.25,267.57 L1274.55,267.57 L1274.85,267.57 L1275.15,267.57 L1275.45,267.57 L1275.75,267.57 L1276.05,267.57 L1276.35,267.57 L1276.65,267.57 L1276.95,267.57 L1277.25,267.57 L1277.55,267.57 L1277.85,267.57 L1278.15,267.57 L1278.45,267.57 L1278.75,267.57 L1279.05,267.57 L1279.35,272.77 L1279.65,272.77 L1279.95,272.77 L1280.25,272.77 L1280.55,272.77 L1280.85,272.77 L1281.15,272.77 L1281.45,275.37 L1281.75,275.37 L1282.05,275.37 L1282.35,275.37 L1282.65,275.37 L1282.95,275.37 L1283.25,277.97 L1283.55,277.97 L1283.85,277.97 L1284.15,277.97 L1284.45,277.97 L1284.75,277.97 L1285.05,277.97 L1285.35,277.97 L1285.65,277.97 L1285.95,277.97 L1286.25,277.97 L1286.55,277.97 L1286.85,277.97 L1287.15,277.97 L1287.45,277.97 L1287.75,277.97 L1288.05,277.97 L1288.35,277.97 L1288.65,277.97 L1288.95,277.97 L1289.25,277.97 L1289.55,277.97 L1289.85,277.97 L1290.15,277.97 L1290.45,277.97 L1290.75,277.97 L1291.05,277.97 L1291.35,277.97 L1291.65,277.97 L1291.95,277.97 L1292.25,277.97 L1292.55,277.97 L1292.85,277.97 L1293.16,277.97 L1293.46,277.97 L1293.76,277.97 L1294.06,277.97 L1294.36,277.97 L1294.66,277.97 L1294.96,280.46 L1295.26,280.46 L1295.56,280.46 L1295.86,280.46 L1296.16,280.46 L1296.46,280.46 L1296.76,282.75 L1297.06,282.75 L1297.36,282.75 L1297.66,282.75 L1297.96,282.75 L1298.26,282.75 L1298.56,285.14 L1298.86,285.14 L1299.16,285.14 L1299.46,285.14 L1299.76,285.14" stroke="#0d6fe3" stroke-width="3"/>
<path d="M77.55,216.92 L78.88,226.28 L80.12,252.28 L81.45,236.68 L82.74,225.24 L84.07,224.20 L85.35,220.04 L86.68,229.40 L88.01,255.40 L89.30,259.56 L90.63,273.08 L91.91,291.80 L93.24,309.48 L94.57,309.48 L95.77,305.32 L97.10,318.84 L98.39,327.16 L99.72,332.36 L101.01,353.16 L102.33,353.16 L103.66,345.88 L104.95,353.16 L106.28,340.68 L107.57,344.84 L108.90,344.84 L110.22,336.52 L111.43,331.32 L112.75,336.52 L114.04,327.16 L115.37,327.16 L116.66,305.32 L117.99,301.16 L119.32,301.16 L120.60,283.48 L121.93,283.48 L123.22,261.64 L124.55,238.76 L125.88,226.28 L127.08,225.24 L128.41,223.16 L129.69,226.28 L131.02,231.48 L132.31,245.00 L133.64,254.36 L134.97,254.36 L136.25,258.52 L137.58,254.36 L138.87,260.60 L140.20,278.28 L141.53,299.08 L142.77,299.08 L144.10,299.08 L145.39,303.24 L146.72,299.08 L148.00,290.76 L149.33,290.76 L150.66,298.04 L151.95,303.24 L153.28,311.56 L154.56,314.68 L155.89,318.84 L157.22,314.68 L158.42,311.56 L159.75,314.68 L161.04,311.56 L162.37,311.56 L163.65,318.84 L164.98,314.68 L166.31,315.72 L167.60,311.56 L168.93,315.72 L170.21,315.72 L171.54,311.56 L172.87,311.56 L174.07,315.72 L175.40,315.72 L176.69,315.72 L178.02,318.84 L179.30,318.84 L180.63,323.00 L181.96,327.16 L183.25,330.28 L184.58,327.16 L185.86,330.28 L187.19,330.28 L188.52,330.28 L189.72,327.16 L191.05,330.28 L192.34,330.28 L193.67,327.16 L194.96,327.16 L196.28,327.16 L197.61,318.84 L198.90,318.84 L200.23,318.84 L201.52,318.84 L202.85,318.84 L204.17,318.84 L205.42,318.84 L206.75,315.72 L208.03,311.56 L209.36,303.24 L210.65,299.08 L211.98,303.24 L213.31,303.24 L214.59,295.96 L215.92,295.96 L217.21,292.84 L218.54,291.80 L219.87,287.64 L221.07,284.52 L222.40,284.52 L223.69,285.56 L225.01,289.72 L226.30,288.68 L227.63,285.56 L228.96,288.68 L230.25,292.84 L231.57,288.68 L232.86,291.80 L234.19,288.68 L235.52,289.72 L236.72,285.56 L238.05,286.60 L239.34,289.72 L240.67,293.88 L241.95,297.00 L243.28,301.16 L244.61,301.16 L245.90,301.16 L247.23,304.28 L248.51,304.28 L249.84,308.44 L251.17,311.56 L252.37,318.84 L253.70,318.84 L254.99,318.84 L256.32,315.72 L257.60,311.56 L258.93,311.56 L260.26,307.40 L261.55,307.40 L262.88,304.28 L264.16,304.28 L265.49,312.60 L266.82,307.40 L268.07,307.40 L269.40,303.24 L270.68,304.28 L272.01,304.28 L273.30,308.44 L274.63,308.44 L275.96,308.44 L277.24,308.44 L278.57,308.44 L279.86,308.44 L281.19,306.36 L282.52,309.48 L283.72,309.48 L285.05,313.64 L286.33,313.64 L287.66,313.64 L288.95,309.48 L290.28,311.56 L291.61,310.52 L292.89,315.72 L294.22,315.72 L295.51,315.72 L296.84,315.72 L298.17,312.60 L299.37,311.56 L300.70,309.48 L301.98,309.48 L303.31,309.48 L304.60,311.56 L305.93,310.52 L307.26,309.48 L308.54,309.48 L309.87,309.48 L311.16,309.48 L312.49,309.48 L313.82,312.60 L315.02,312.60 L316.35,313.64 L317.64,312.60 L318.96,309.48 L320.25,309.48 L321.58,309.48 L322.91,310.52 L324.20,309.48 L325.53,310.52 L326.81,306.36 L328.14,307.40 L329.47,307.40 L330.71,309.48 L332.04,309.48 L333.33,309.48 L334.66,309.48 L335.94,309.48 L337.27,309.48 L338.60,312.60 L339.89,312.60 L341.22,309.48 L342.51,312.60 L343.83,312.60 L345.16,312.60 L346.36,309.48 L347.69,306.36 L348.98,306.36 L350.31,303.24 L351.60,306.36 L352.93,306.36 L354.25,306.36 L355.54,306.36 L356.87,306.36 L358.16,303.24 L359.49,300.12 L360.82,297.00 L362.02,297.00 L363.35,293.88 L364.63,293.88 L365.96,297.00 L367.25,293.88 L368.58,290.76 L369.91,287.64 L371.19,284.52 L372.52,284.52 L373.81,287.64 L375.14,290.76 L376.47,293.88 L377.67,297.00 L379.00,297.00 L380.28,297.00 L381.61,293.88 L382.90,297.00 L384.23,297.00 L385.56,297.00 L386.84,297.00 L388.17,293.88 L389.46,291.80 L390.79,285.56 L392.12,282.44 L393.36,279.32 L394.69,279.32 L395.98,279.32 L397.31,279.32 L398.59,276.20 L399.92,276.20 L401.25,276.20 L402.54,276.20 L403.87,273.08 L405.15,274.12 L406.48,277.24 L407.81,274.12 L409.01,267.88 L410.34,265.80 L411.63,265.80 L412.96,265.80 L414.24,265.80 L415.57,262.68 L416.90,262.68 L418.19,263.72 L419.52,261.64 L420.80,258.52 L422.13,258.52 L423.46,258.52 L424.66,262.68 L425.99,259.56 L427.28,260.60 L428.61,260.60 L429.89,260.60 L431.22,266.84 L432.55,263.72 L433.84,263.72 L435.17,266.84 L436.46,264.76 L437.78,267.88 L439.11,271.00 L440.31,274.12 L441.64,279.32 L442.93,277.24 L444.26,275.16 L445.55,277.24 L446.88,275.16 L448.20,280.36 L449.49,283.48 L450.82,286.60 L452.11,288.68 L453.44,288.68 L454.77,286.60 L456.01,286.60 L457.34,286.60 L458.62,289.72 L459.95,291.80 L461.24,292.84 L462.57,291.80 L463.90,289.72 L465.19,287.64 L466.51,287.64 L467.80,287.64 L469.13,285.56 L470.46,282.44 L471.66,275.16 L472.99,269.96 L474.28,265.80 L475.61,261.64 L476.89,263.72 L478.22,246.04 L479.55,246.04 L480.84,241.88 L482.17,236.68 L483.45,232.52 L484.78,225.24 L486.11,219.00 L487.31,214.84 L488.64,217.96 L489.93,211.72 L491.26,209.64 L492.54,203.40 L493.87,209.64 L495.20,199.24 L496.49,197.16 L497.82,196.12 L499.10,195.08 L500.43,200.28 L501.76,206.52 L502.96,215.88 L504.29,216.92 L505.58,224.20 L506.91,225.24 L508.19,222.12 L509.52,233.56 L510.85,240.84 L512.14,246.04 L513.47,246.04 L514.75,251.24 L516.08,253.32 L517.41,257.48 L518.66,259.56 L519.99,260.60 L521.27,258.52 L522.60,261.64 L523.89,266.84 L525.22,263.72 L526.55,265.80 L527.83,267.88 L529.16,272.04 L530.45,273.08 L531.78,268.92 L533.11,262.68 L534.31,256.44 L535.64,251.24 L536.92,253.32 L538.25,251.24 L539.54,252.28 L540.87,254.36 L542.20,254.36 L543.48,256.44 L544.81,254.36 L546.10,253.32 L547.43,255.40 L548.76,256.44 L549.96,255.40 L551.29,255.40 L552.57,250.20 L553.90,246.04 L555.19,242.92 L556.52,240.84 L557.85,236.68 L559.14,230.44 L560.46,230.44 L561.75,229.40 L563.08,226.28 L564.41,220.04 L565.61,217.96 L566.94,213.80 L568.23,209.64 L569.56,209.64 L570.84,205.48 L572.17,200.28 L573.50,196.12 L574.79,197.16 L576.12,191.96 L577.40,184.68 L578.73,178.44 L580.06,175.32 L581.30,169.08 L582.63,170.12 L583.92,173.24 L585.25,173.24 L586.54,186.76 L587.86,188.84 L589.19,191.96 L590.48,189.88 L591.81,191.96 L593.10,193.00 L594.43,200.28 L595.75,204.44 L596.96,213.80 L598.28,219.00 L599.57,221.08 L600.90,223.16 L602.19,210.68 L603.52,210.68 L604.85,208.60 L606.13,217.96 L607.46,223.16 L608.75,230.44 L610.08,235.64 L611.41,243.96 L612.61,252.28 L613.94,255.40 L615.22,253.32 L616.55,249.16 L617.84,256.44 L619.17,261.64 L620.50,271.00 L621.78,269.96 L623.11,275.16 L624.40,283.48 L625.73,284.52 L627.06,286.60 L628.26,285.56 L629.59,282.44 L630.87,286.60 L632.20,295.96 L633.49,298.04 L634.82,297.00 L636.15,293.88 L637.43,292.84 L638.76,288.68 L640.05,283.48 L641.38,279.32 L642.71,275.16 L643.95,273.08 L645.28,275.16 L646.57,279.32 L647.90,279.32 L649.18,279.32 L650.51,278.28 L651.84,278.28 L653.13,278.28 L654.46,280.36 L655.74,282.44 L657.07,286.60 L658.40,286.60 L659.60,284.52 L660.93,284.52 L662.22,283.48 L663.55,283.48 L664.83,285.56 L666.16,288.68 L667.49,290.76 L668.78,289.72 L670.11,286.60 L671.40,283.48 L672.72,282.44 L674.05,290.76 L675.25,300.12 L676.58,306.36 L677.87,307.40 L679.20,305.32 L680.49,306.36 L681.81,306.36 L683.14,304.28 L684.43,307.40 L685.76,309.48 L687.05,311.56 L688.38,307.40 L689.70,301.16 L690.91,291.80 L692.23,283.48 L693.52,282.44 L694.85,284.52 L696.14,282.44 L697.47,278.28 L698.80,278.28 L700.08,276.20 L701.41,276.20 L702.70,277.24 L704.03,281.40 L705.36,282.44 L706.60,282.44 L707.93,282.44 L709.22,282.44 L710.54,281.40 L711.83,280.36 L713.16,281.40 L714.49,279.32 L715.78,279.32 L717.11,279.32 L718.39,277.24 L719.72,274.12 L721.05,273.08 L722.25,271.00 L723.58,269.96 L724.87,266.84 L726.20,268.92 L727.48,271.00 L728.81,274.12 L730.14,278.28 L731.43,276.20 L732.76,275.16 L734.04,275.16 L735.37,268.92 L736.70,267.88 L737.90,268.92 L739.23,274.12 L740.52,277.24 L741.85,274.12 L743.13,273.08 L744.46,264.76 L745.79,258.52 L747.08,257.48 L748.41,257.48 L749.69,257.48 L751.02,263.72 L752.35,267.88 L753.55,272.04 L754.88,272.04 L756.17,271.00 L757.50,274.12 L758.78,277.24 L760.11,283.48 L761.44,287.64 L762.73,292.84 L764.06,291.80 L765.35,290.76 L766.67,295.96 L768.00,293.88 L769.25,289.72 L770.58,289.72 L771.86,291.80 L773.19,290.76 L774.48,289.72 L775.81,290.76 L777.14,291.80 L778.42,289.72 L779.75,290.76 L781.04,292.84 L782.37,288.68 L783.70,288.68 L784.90,291.80 L786.23,289.72 L787.51,289.72 L788.84,291.80 L790.13,293.88 L791.46,293.88 L792.79,294.92 L794.07,293.88 L795.40,294.92 L796.69,294.92 L798.02,297.00 L799.35,297.00 L800.55,295.96 L801.88,298.04 L803.17,299.08 L804.49,297.00 L805.78,293.88 L807.11,292.84 L808.44,291.80 L809.73,295.96 L811.06,294.92 L812.34,294.92 L813.67,293.88 L815.00,292.84 L816.20,292.84 L817.53,290.76 L818.82,289.72 L820.15,291.80 L821.43,293.88 L822.76,295.96 L824.09,297.00 L825.38,293.88 L826.71,295.96 L827.99,297.00 L829.32,294.92 L830.65,294.92 L831.89,293.88 L833.22,292.84 L834.51,292.84 L835.84,294.92 L837.13,291.80 L838.46,292.84 L839.78,291.80 L841.07,291.80 L842.40,288.68 L843.69,287.64 L845.02,291.80 L846.35,291.80 L847.55,293.88 L848.88,297.00 L850.16,300.12 L851.49,299.08 L852.78,300.12 L854.11,300.12 L855.44,300.12 L856.72,301.16 L858.05,304.28 L859.34,305.32 L860.67,306.36 L862.00,308.44 L863.20,308.44 L864.53,307.40 L865.81,305.32 L867.14,305.32 L868.43,305.32 L869.76,306.36 L871.09,307.40 L872.37,307.40 L873.70,307.40 L874.99,306.36 L876.32,305.32 L877.65,306.36 L878.85,304.28 L880.18,299.08 L881.46,301.16 L882.79,302.20 L884.08,301.16 L885.41,299.08 L886.74,295.96 L888.02,295.96 L889.35,295.96 L890.64,294.92 L891.97,293.88 L893.30,289.72 L894.54,283.48 L895.87,290.76 L897.16,289.72 L898.49,284.52 L899.77,284.52 L901.10,287.64 L902.43,286.60 L903.72,287.64 L905.05,287.64 L906.33,287.64 L907.66,284.52 L908.99,286.60 L910.19,292.84 L911.52,288.68 L912.81,285.56 L914.14,289.72 L915.43,294.92 L916.75,294.92 L918.08,295.96 L919.37,301.16 L920.70,303.24 L921.99,306.36 L923.32,310.52 L924.64,311.56 L925.85,307.40 L927.17,306.36 L928.46,310.52 L929.79,311.56 L931.08,307.40 L932.41,304.28 L933.73,307.40 L935.02,302.20 L936.35,300.12 L937.64,298.04 L938.97,295.96 L940.30,291.80 L941.50,291.80 L942.83,300.12 L944.11,301.16 L945.44,301.16 L946.73,301.16 L948.06,300.12 L949.39,299.08 L950.67,302.20 L952.00,304.28 L953.29,303.24 L954.62,303.24 L955.95,305.32 L957.19,305.32 L958.52,299.08 L959.81,290.76 L961.14,288.68 L962.42,291.80 L963.75,294.92 L965.08,295.96 L966.37,289.72 L967.70,286.60 L968.98,288.68 L970.31,291.80 L971.64,291.80 L972.84,290.76 L974.17,286.60 L975.46,293.88 L976.79,297.00 L978.07,289.72 L979.40,285.56 L980.73,274.12 L982.02,278.28 L983.35,286.60 L984.63,287.64 L985.96,281.40 L987.29,285.56 L988.49,287.64 L989.82,286.60 L991.11,279.32 L992.44,278.28 L993.72,280.36 L995.05,282.44 L996.38,301.16 L997.67,309.48 L999.00,302.20 L1000.28,297.00 L1001.61,301.16 L1002.94,298.04 L1004.14,293.88 L1005.47,295.96 L1006.76,294.92 L1008.09,294.92 L1009.38,298.04 L1010.70,302.20 L1012.03,293.88 L1013.32,286.60 L1014.65,278.28 L1015.94,280.36 L1017.27,278.28 L1018.59,281.40 L1019.84,281.40 L1021.17,282.44 L1022.45,280.36 L1023.78,271.00 L1025.07,265.80 L1026.40,266.84 L1027.73,272.04 L1029.01,284.52 L1030.34,311.56 L1031.63,323.00 L1032.96,323.00 L1034.29,323.00 L1035.49,329.24 L1036.82,329.24 L1038.10,333.40 L1039.43,337.56 L1040.72,343.80 L1042.05,338.60 L1043.38,337.56 L1044.67,325.08 L1045.99,304.28 L1047.28,294.92 L1048.61,295.96 L1049.94,300.12 L1051.14,299.08 L1052.47,300.12 L1053.76,302.20 L1055.09,311.56 L1056.37,310.52 L1057.70,311.56 L1059.03,311.56 L1060.32,310.52 L1061.65,311.56 L1062.93,308.44 L1064.26,306.36 L1065.59,301.16 L1066.79,295.96 L1068.12,290.76 L1069.41,286.60 L1070.74,286.60 L1072.02,285.56 L1073.35,284.52 L1074.68,283.48 L1075.97,286.60 L1077.30,287.64 L1078.58,291.80 L1079.91,292.84 L1081.24,292.84 L1082.49,294.92 L1083.81,299.08 L1085.10,305.32 L1086.43,305.32 L1087.72,308.44 L1089.05,305.32 L1090.38,302.20 L1091.66,300.12 L1092.99,304.28 L1094.28,305.32 L1095.61,306.36 L1096.94,302.20 L1098.14,307.40 L1099.47,311.56 L1100.75,308.44 L1102.08,304.28 L1103.37,302.20 L1104.70,307.40 L1106.03,310.52 L1107.31,312.60 L1108.64,310.52 L1109.93,307.40 L1111.26,306.36 L1112.59,311.56 L1113.79,307.40 L1115.12,302.20 L1116.40,301.16 L1117.73,301.16 L1119.02,302.20 L1120.35,305.32 L1121.68,305.32 L1122.96,305.32 L1124.29,309.48 L1125.58,314.68 L1126.91,324.04 L1128.24,323.00 L1129.44,323.00 L1130.77,324.04 L1132.05,323.00 L1133.38,321.96 L1134.67,320.92 L1136.00,320.92 L1137.33,323.00 L1138.62,320.92 L1139.94,317.80 L1141.23,315.72 L1142.56,308.44 L1143.89,312.60 L1145.13,313.64 L1146.46,311.56 L1147.75,312.60 L1149.08,312.60 L1150.36,314.68 L1151.69,311.56 L1153.02,307.40 L1154.31,306.36 L1155.64,305.32 L1156.93,301.16 L1158.25,297.00 L1159.58,294.92 L1160.78,298.04 L1162.11,300.12 L1163.40,303.24 L1164.73,306.36 L1166.02,305.32 L1167.35,303.24 L1168.67,300.12 L1169.96,302.20 L1171.29,300.12 L1172.58,301.16 L1173.91,301.16 L1175.24,300.12 L1176.44,298.04 L1177.77,297.00 L1179.05,293.88 L1180.38,292.84 L1181.67,292.84 L1183.00,294.92 L1184.33,299.08 L1185.61,297.00 L1186.94,300.12 L1188.23,303.24 L1189.56,307.40 L1190.89,307.40 L1192.09,303.24 L1193.42,302.20 L1194.70,304.28 L1196.03,306.36 L1197.32,304.28 L1198.65,305.32 L1199.98,305.32 L1201.26,304.28 L1202.59,301.16 L1203.88,299.08 L1205.21,297.00 L1206.54,299.08 L1207.78,307.40 L1209.11,319.88 L1210.40,321.96 L1211.73,316.76 L1213.01,312.60 L1214.34,309.48 L1215.67,308.44 L1216.96,310.52 L1218.29,310.52 L1219.57,308.44 L1220.90,308.44 L1222.23,305.32 L1223.43,295.96 L1224.76,279.32 L1226.05,271.00 L1227.38,266.84 L1228.66,266.84 L1229.99,267.88 L1231.32,266.84 L1232.61,258.52 L1233.94,252.28 L1235.22,249.16 L1236.55,245.00 L1237.88,240.84 L1239.08,232.52 L1240.41,236.68 L1241.70,231.48 L1243.03,230.44 L1244.31,234.60 L1245.64,236.68 L1246.97,237.72 L1248.26,241.88 L1249.59,249.16 L1250.88,256.44 L1252.20,256.44 L1253.53,260.60 L1254.73,271.00 L1256.06,272.04 L1257.35,280.36 L1258.68,291.80 L1259.97,289.72 L1261.30,284.52 L1262.62,284.52 L1263.91,289.72 L1265.24,290.76 L1266.53,288.68 L1267.86,290.76 L1269.19,289.72 L1270.43,286.60 L1271.76,287.64 L1273.04,288.68 L1274.37,291.80 L1275.66,292.84 L1276.99,297.00 L1278.32,298.04 L1279.61,295.96 L1280.93,294.92 L1282.22,292.84 L1283.55,291.80 L1284.88,293.88 L1286.08,298.04 L1287.41,299.08 L1288.70,298.04 L1290.02,294.92 L1291.31,294.92 L1292.64,292.84 L1293.97,291.80" stroke="#0f8276" stroke-width="3"/>
</g>
<line x1="77" y1="323" x2="1300" y2="323" stroke="#000" stroke-width="2"/>
<g class="txt"><text x="63.2" y="60.8" text-anchor="end" class="ax" textLength="16.6" lengthAdjust="spacingAndGlyphs">25</text><text x="63.2" y="112.8" text-anchor="end" class="ax" textLength="16.6" lengthAdjust="spacingAndGlyphs">20</text><text x="63.2" y="164.8" text-anchor="end" class="ax" textLength="16.6" lengthAdjust="spacingAndGlyphs">15</text><text x="63.2" y="216.8" text-anchor="end" class="ax" textLength="16.6" lengthAdjust="spacingAndGlyphs">10</text><text x="63.2" y="268.8" text-anchor="end" class="ax" textLength="8.3" lengthAdjust="spacingAndGlyphs">5</text><text x="63.2" y="320.8" text-anchor="end" class="ax" textLength="8.3" lengthAdjust="spacingAndGlyphs">0</text><text x="63.2" y="372.8" text-anchor="end" class="ax" textLength="14.0" lengthAdjust="spacingAndGlyphs">-5</text>
<text x="109.0" y="395" text-anchor="middle" class="ax" textLength="35.6" lengthAdjust="spacingAndGlyphs">1950</text><text x="188.0" y="395" text-anchor="middle" class="ax" textLength="35.6" lengthAdjust="spacingAndGlyphs">1955</text><text x="266.0" y="395" text-anchor="middle" class="ax" textLength="35.6" lengthAdjust="spacingAndGlyphs">1960</text><text x="344.0" y="395" text-anchor="middle" class="ax" textLength="35.6" lengthAdjust="spacingAndGlyphs">1965</text><text x="423.0" y="395" text-anchor="middle" class="ax" textLength="35.6" lengthAdjust="spacingAndGlyphs">1970</text><text x="501.0" y="395" text-anchor="middle" class="ax" textLength="35.6" lengthAdjust="spacingAndGlyphs">1975</text><text x="579.0" y="395" text-anchor="middle" class="ax" textLength="35.6" lengthAdjust="spacingAndGlyphs">1980</text><text x="658.0" y="395" text-anchor="middle" class="ax" textLength="35.6" lengthAdjust="spacingAndGlyphs">1985</text><text x="736.0" y="395" text-anchor="middle" class="ax" textLength="35.6" lengthAdjust="spacingAndGlyphs">1990</text><text x="814.0" y="395" text-anchor="middle" class="ax" textLength="35.6" lengthAdjust="spacingAndGlyphs">1995</text><text x="892.0" y="395" text-anchor="middle" class="ax" textLength="35.6" lengthAdjust="spacingAndGlyphs">2000</text><text x="971.0" y="395" text-anchor="middle" class="ax" textLength="35.6" lengthAdjust="spacingAndGlyphs">2005</text><text x="1049.0" y="395" text-anchor="middle" class="ax" textLength="35.6" lengthAdjust="spacingAndGlyphs">2010</text><text x="1127.0" y="395" text-anchor="middle" class="ax" textLength="35.6" lengthAdjust="spacingAndGlyphs">2015</text><text x="1206.0" y="395" text-anchor="middle" class="ax" textLength="35.6" lengthAdjust="spacingAndGlyphs">2020</text><text x="1284.0" y="395" text-anchor="middle" class="ax" textLength="35.6" lengthAdjust="spacingAndGlyphs">2025</text>
<text transform="translate(26.7,376.2) rotate(-90)" x="0" y="0" style="font-size:16.5px;fill:#444" textLength="313.5" lengthAdjust="spacingAndGlyphs">Percent , Percent Change from Year Ago</text>
<text x="23" y="429.5" class="ft" textLength="746" lengthAdjust="spacingAndGlyphs">Sources: Board of Governors of the Federal Reserve System (US); U.S. Bureau of Labor Statistics via FRED®</text>
<text x="23" y="444.8" class="ft" style="fill:#3b64a0" textLength="265" lengthAdjust="spacingAndGlyphs">Shaded areas indicate U.S. recessions.</text>
<text x="1173" y="444.8" class="ft" textLength="124.2" lengthAdjust="spacingAndGlyphs">fred.stlouisfed.org</text></g>
</svg>
</body></html>
